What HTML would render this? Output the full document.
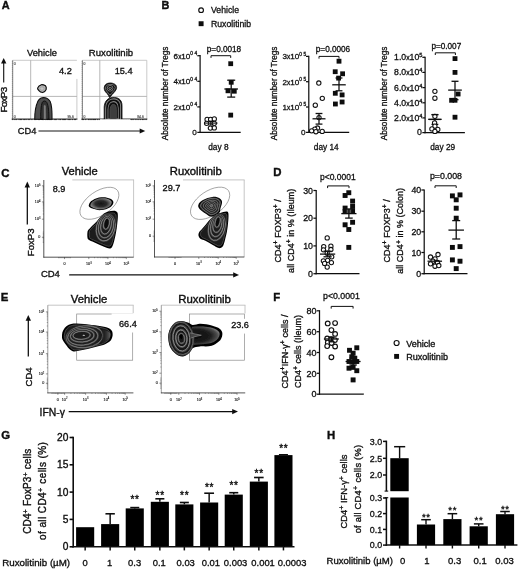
<!DOCTYPE html>
<html><head><meta charset="utf-8"><title>Figure</title>
<style>html,body{margin:0;padding:0;background:#fff;}svg{display:block;}</style>
</head><body>
<svg width="520" height="569" viewBox="0 0 520 569" font-family="Liberation Sans, sans-serif" style="white-space:pre">
<rect width="520" height="569" fill="#fff"/>
<g filter="url(#gbl)">
<defs>
<filter id="bl" x="-10%" y="-10%" width="120%" height="120%"><feGaussianBlur stdDeviation="0.38"/></filter>
<radialGradient id="rg1" cx="50%" cy="50%" r="55%"><stop offset="0" stop-color="#151515"/><stop offset="0.5" stop-color="#2c2c2c"/><stop offset="0.85" stop-color="#777"/><stop offset="1" stop-color="#a4a4a4"/></radialGradient>
<linearGradient id="rg2" x1="0" y1="0" x2="1" y2="0"><stop offset="0" stop-color="#0a0a0a"/><stop offset="0.55" stop-color="#2a2a2a"/><stop offset="1" stop-color="#707070"/></linearGradient>
<radialGradient id="rg3" cx="0.1" cy="0.5" r="0.95" gradientTransform="translate(0 0.5) scale(1 0.62) translate(0 -0.5)"><stop offset="0" stop-color="#080808"/><stop offset="0.6" stop-color="#1c1c1c"/><stop offset="0.85" stop-color="#4a4a4a"/><stop offset="1" stop-color="#858585"/></radialGradient>
<filter id="gbl" x="0" y="0" width="520" height="569" filterUnits="userSpaceOnUse"><feGaussianBlur stdDeviation="0.38"/></filter>
<filter id="bl2" x="-10%" y="-10%" width="120%" height="120%"><feGaussianBlur stdDeviation="0.45"/></filter>
</defs>
<text x="1.7" y="8.9" font-size="10.9" text-anchor="start" font-weight="bold" fill="#111" stroke="#111" stroke-width="0.39" xml:space="preserve" >A</text>
<text x="161.6" y="8.9" font-size="10.9" text-anchor="start" font-weight="bold" fill="#111" stroke="#111" stroke-width="0.39" xml:space="preserve" >B</text>
<text x="1.2" y="176.5" font-size="11.4" text-anchor="start" font-weight="bold" fill="#111" stroke="#111" stroke-width="0.41" xml:space="preserve" >C</text>
<text x="273.2" y="176.4" font-size="11.4" text-anchor="start" font-weight="bold" fill="#111" stroke="#111" stroke-width="0.41" xml:space="preserve" >D</text>
<text x="0.8" y="300.8" font-size="11.4" text-anchor="start" font-weight="bold" fill="#111" stroke="#111" stroke-width="0.41" xml:space="preserve" >E</text>
<text x="273.2" y="300.6" font-size="11.4" text-anchor="start" font-weight="bold" fill="#111" stroke="#111" stroke-width="0.41" xml:space="preserve" >F</text>
<text x="1.2" y="439.3" font-size="11.4" text-anchor="start" font-weight="bold" fill="#111" stroke="#111" stroke-width="0.41" xml:space="preserve" >G</text>
<text x="326.9" y="439.1" font-size="11.4" text-anchor="start" font-weight="bold" fill="#111" stroke="#111" stroke-width="0.41" xml:space="preserve" >H</text>
<text x="42" y="55.8" font-size="9.3" text-anchor="middle" fill="#111" stroke="#111" stroke-width="0.33" xml:space="preserve" >Vehicle</text>
<text x="111" y="55.8" font-size="9.6" text-anchor="middle" fill="#111" stroke="#111" stroke-width="0.35" xml:space="preserve" >Ruxolitinib</text>
<text x="7.5" y="112.6" font-size="9.8" text-anchor="start" transform="rotate(-90 7.5 112.6)" textLength="25.8" lengthAdjust="spacing" fill="#111" stroke="#111" stroke-width="0.35" xml:space="preserve" >FoxP3</text>
<line x1="3.7" y1="82.4" x2="3.7" y2="62.6" stroke="#111" stroke-width="1.1" />
<polygon points="3.7,58 1.0,63.6 6.4,63.6" fill="#111"/>
<text x="17.8" y="134.3" font-size="9.3" text-anchor="start" fill="#111" stroke="#111" stroke-width="0.33" xml:space="preserve" >CD4</text>
<line x1="38.5" y1="131" x2="140.70000000000002" y2="131" stroke="#111" stroke-width="1.15" />
<polygon points="145.3,131 139.70000000000002,128.4 139.70000000000002,133.6" fill="#111"/>
<line x1="12.7" y1="60.3" x2="76.9" y2="60.3" stroke="#b4b4b4" stroke-width="0.7" />
<line x1="76.9" y1="78.9" x2="76.9" y2="119" stroke="#b4b4b4" stroke-width="0.7" />
<line x1="30.7" y1="60.3" x2="30.7" y2="119" stroke="#a4a4a4" stroke-width="0.8" />
<line x1="12.7" y1="96.4" x2="76.9" y2="96.4" stroke="#a4a4a4" stroke-width="0.8" />
<line x1="12.7" y1="60.3" x2="12.7" y2="119" stroke="#4a4a4a" stroke-width="0.7" />
<line x1="11.7" y1="119.1" x2="77.4" y2="119.1" stroke="#111" stroke-width="1.0" />
<path d="M11.8,61.3h0.9M11.8,63.3h0.9M11.8,65.3h0.9M11.8,67.3h0.9M11.8,69.3h0.9M11.8,71.3h0.9M11.8,73.3h0.9M11.8,75.3h0.9M11.8,77.3h0.9M11.8,79.3h0.9M11.8,81.3h0.9M11.8,83.3h0.9M11.8,85.3h0.9M11.8,87.3h0.9M11.8,89.3h0.9M11.8,91.3h0.9M11.8,93.3h0.9M11.8,95.3h0.9M11.8,97.3h0.9M11.8,99.3h0.9M11.8,101.3h0.9M11.8,103.3h0.9M11.8,105.3h0.9M11.8,107.3h0.9M11.8,109.3h0.9M11.8,111.3h0.9M11.8,113.3h0.9M11.8,115.3h0.9M11.8,117.3h0.9M11.8,119.3h0.9" stroke="#444" stroke-width="0.4" fill="none"/>
<path d="M12.7,119v1.1M14.9,119v1.1M16.3,119v1.1M19.1,119v1.1M20.5,119v1.1M21.6,119v1.1M23.8,119v1.1M24.7,119v1.1M26.1,119v1.1M28.3,119v1.1M29.7,119v1.1M31.9,119v1.1M34.7,119v1.1M35.8,119v1.1M38.6,119v1.1M39.5,119v1.1M42.3,119v1.1M43.4,119v1.1M45.6,119v1.1M47.0,119v1.1M48.1,119v1.1M49.5,119v1.1M50.6,119v1.1M51.5,119v1.1M54.3,119v1.1M55.4,119v1.1M56.3,119v1.1M59.1,119v1.1M60.5,119v1.1M62.7,119v1.1M63.6,119v1.1M64.5,119v1.1M65.4,119v1.1M68.2,119v1.1M69.3,119v1.1M70.2,119v1.1M72.4,119v1.1M74.6,119v1.1M75.5,119v1.1" stroke="#111" stroke-width="0.7" fill="none"/>
<line x1="82.4" y1="60.3" x2="146.8" y2="60.3" stroke="#b4b4b4" stroke-width="0.7" />
<line x1="146.8" y1="60.3" x2="146.8" y2="119" stroke="#b4b4b4" stroke-width="0.7" />
<line x1="99.8" y1="60.3" x2="99.8" y2="119" stroke="#a4a4a4" stroke-width="0.8" />
<line x1="82.4" y1="96.4" x2="146.8" y2="96.4" stroke="#a4a4a4" stroke-width="0.8" />
<line x1="82.4" y1="60.3" x2="82.4" y2="119" stroke="#4a4a4a" stroke-width="0.7" />
<line x1="81.4" y1="119.1" x2="147.3" y2="119.1" stroke="#111" stroke-width="1.0" />
<path d="M81.5,61.3h0.9M81.5,63.3h0.9M81.5,65.3h0.9M81.5,67.3h0.9M81.5,69.3h0.9M81.5,71.3h0.9M81.5,73.3h0.9M81.5,75.3h0.9M81.5,77.3h0.9M81.5,79.3h0.9M81.5,81.3h0.9M81.5,83.3h0.9M81.5,85.3h0.9M81.5,87.3h0.9M81.5,89.3h0.9M81.5,91.3h0.9M81.5,93.3h0.9M81.5,95.3h0.9M81.5,97.3h0.9M81.5,99.3h0.9M81.5,101.3h0.9M81.5,103.3h0.9M81.5,105.3h0.9M81.5,107.3h0.9M81.5,109.3h0.9M81.5,111.3h0.9M81.5,113.3h0.9M81.5,115.3h0.9M81.5,117.3h0.9M81.5,119.3h0.9" stroke="#444" stroke-width="0.4" fill="none"/>
<path d="M82.4,119v1.1M83.5,119v1.1M85.7,119v1.1M88.5,119v1.1M89.9,119v1.1M91.0,119v1.1M92.1,119v1.1M93.5,119v1.1M94.6,119v1.1M95.5,119v1.1M97.7,119v1.1M99.9,119v1.1M102.7,119v1.1M103.6,119v1.1M104.7,119v1.1M106.1,119v1.1M108.9,119v1.1M110.0,119v1.1M110.9,119v1.1M113.1,119v1.1M114.0,119v1.1M115.4,119v1.1M116.8,119v1.1M119.0,119v1.1M119.9,119v1.1M122.1,119v1.1M123.2,119v1.1M124.1,119v1.1M125.2,119v1.1M126.6,119v1.1M128.0,119v1.1M128.9,119v1.1M131.7,119v1.1M133.1,119v1.1M135.9,119v1.1M138.1,119v1.1M140.3,119v1.1M142.5,119v1.1M143.9,119v1.1M146.1,119v1.1" stroke="#111" stroke-width="0.7" fill="none"/>
<text x="65.4" y="73.5" font-size="9.2" text-anchor="middle" fill="#111" stroke="#111" stroke-width="0.33" xml:space="preserve" >4.2</text>
<text x="123.6" y="73.5" font-size="9.2" text-anchor="middle" fill="#111" stroke="#111" stroke-width="0.33" xml:space="preserve" >15.4</text>
<text x="13.8" y="64.6" font-size="3.4" text-anchor="start" fill="#444" stroke="#444" stroke-width="0.12" xml:space="preserve" >0</text>
<text x="13.8" y="117.5" font-size="3.4" text-anchor="start" fill="#444" stroke="#444" stroke-width="0.12" xml:space="preserve" >0</text>
<text x="67.4" y="117.5" font-size="3.4" text-anchor="start" fill="#444" stroke="#444" stroke-width="0.12" xml:space="preserve" >95.6</text>
<text x="83.6" y="64.6" font-size="3.4" text-anchor="start" fill="#444" stroke="#444" stroke-width="0.12" xml:space="preserve" >0</text>
<text x="83.6" y="117.5" font-size="3.4" text-anchor="start" fill="#444" stroke="#444" stroke-width="0.12" xml:space="preserve" >0</text>
<text x="137.2" y="117.5" font-size="3.4" text-anchor="start" fill="#444" stroke="#444" stroke-width="0.12" xml:space="preserve" >84.6</text>
<g filter="url(#bl)">
<g transform="translate(42 88.6) scale(0.88) translate(-42 -88.6)">
<path d="M37,88.1 C37.6,86.4 39.6,84.8 41.2,84.2 C42.8,84 44.6,84.6 45.9,85.3 C46.8,86.4 47,88.4 46.7,89.6 C46,91.2 44.2,92.6 42.8,93.1 C41.2,92.8 39.4,91.8 38.5,90.8 C37.6,90 36.8,89 37,88.1Z" fill="#b4b4b4" stroke="#080808" stroke-width="1.3" stroke-linejoin="round"/>
<ellipse cx="42" cy="88.6" rx="2.3" ry="1.9" fill="#c4c4c4" stroke="#8a8a8a" stroke-width="0.5"/>
</g>
<g transform="translate(43.4 119.2) scale(0.95 0.985) translate(-43.4 -119.2)">
<path d="M34.3,119.2 C34.2,112 35.2,106 37.6,101 C38.8,98.8 41.4,97.3 43.6,97.3 C45.8,97.3 48.8,98.8 50.4,101 C52.4,105 52.6,112 52.5,119.2Z" fill="#505050" stroke="#101010" stroke-width="1.1"/>
<path d="M40.6,119.2 C40.5,112 40.8,105.5 42.2,102.2 C43.2,100.2 45.8,100.2 47,102.2 C48.8,105.5 49.2,112 49.2,119.2Z" fill="#333" stroke="#0c0c0c" stroke-width="1"/>
<path d="M43.5,119.2 L43.5,106.5 C43.8,103.8 45.9,103.8 46.2,106.5 L46.4,119.2Z" fill="#7c7c7c" stroke="#2a2a2a" stroke-width="0.5"/>
</g>
</g>
<g filter="url(#bl)">
<path d="M104.2,88 C104.2,85 106.6,83 110,83 C113.6,83 116.6,84.6 116.6,87.4 C116.6,90.4 113.6,92.6 112,94.6 C111.2,95.6 110.4,96.6 109.6,97.6 C108.8,96 108,94.6 107.2,93.6 C105.6,92 104.2,90.6 104.2,88Z" fill="#0a0a0a" stroke="#0a0a0a" stroke-width="0.8"/>
<path d="M105.6,88 C105.6,85.6 107.6,84.3 110,84.3 C112.8,84.3 115.2,85.4 115.2,87.6 C115.2,90 112.6,91.8 111.4,93.4 L109.8,95.2 L108.4,93.2 C107,91.6 105.6,90.4 105.6,88Z" fill="none" stroke="#8a8a8a" stroke-width="0.8"/>
<circle cx="110.1" cy="88.3" r="2.9" fill="#0a0a0a" stroke="#909090" stroke-width="0.8"/>
<circle cx="110.1" cy="88.3" r="1.6" fill="#888"/>
<circle cx="110.1" cy="88.3" r="0.8" fill="#0a0a0a"/>
<defs><path id="dm" d="M104.2,119.2 L104.2,107 C104.4,102.4 107,98.6 110.8,97.7 C113.4,97.1 116.4,97.4 118.5,98.5 C120.8,99.8 122,102.4 122,105.4 L122,119.2Z"/></defs>
<use href="#dm" fill="#0a0a0a" stroke="#0a0a0a" stroke-width="0.8"/>
<use href="#dm" transform="translate(113.2 119.2) scale(0.84 0.93) translate(-113.2 -119.2)" fill="none" stroke="#868686" stroke-width="1.19"/>
<use href="#dm" transform="translate(113.2 119.2) scale(0.58 0.8) translate(-113.2 -119.2)" fill="none" stroke="#808080" stroke-width="1.55"/>
<use href="#dm" transform="translate(113.2 119.2) scale(0.36 0.68) translate(-113.2 -119.2)" fill="#3c3c3c" stroke="#555" stroke-width="1.39"/>
<rect x="100" y="119.3" width="30" height="3" fill="#fff"/>
</g>
<circle cx="201.1" cy="10.2" r="2.35" fill="#fff" stroke="#111" stroke-width="1.15"/>
<text x="211" y="13.2" font-size="8.7" text-anchor="start" fill="#111" stroke="#111" stroke-width="0.31" xml:space="preserve" >Vehicle</text>
<rect x="198.65" y="21.25" width="4.9" height="4.9" fill="#0a0a0a"/>
<text x="211" y="26.9" font-size="8.7" text-anchor="start" fill="#111" stroke="#111" stroke-width="0.31" xml:space="preserve" >Ruxolitinib</text>
<line x1="200.1" y1="55.075" x2="200.1" y2="133.025" stroke="#111" stroke-width="1.25" />
<line x1="199.475" y1="132.4" x2="240.7" y2="132.4" stroke="#111" stroke-width="1.25" />
<line x1="197.29999999999998" y1="55.7" x2="200.1" y2="55.7" stroke="#111" stroke-width="1.25" />
<line x1="197.29999999999998" y1="81.3" x2="200.1" y2="81.3" stroke="#111" stroke-width="1.25" />
<line x1="197.29999999999998" y1="106.9" x2="200.1" y2="106.9" stroke="#111" stroke-width="1.25" />
<line x1="197.29999999999998" y1="132.4" x2="200.1" y2="132.4" stroke="#111" stroke-width="1.25" />
<text x="198.9" y="58.6" font-size="8.1" text-anchor="end" fill="#111" stroke="#111" stroke-width="0.29" xml:space="preserve" >6<tspan font-size="6.4">x</tspan>10<tspan font-size="4.8" dy="-3.6" letter-spacing="1.6">04</tspan></text>
<text x="198.9" y="84.2" font-size="8.1" text-anchor="end" fill="#111" stroke="#111" stroke-width="0.29" xml:space="preserve" >4<tspan font-size="6.4">x</tspan>10<tspan font-size="4.8" dy="-3.6" letter-spacing="1.6">04</tspan></text>
<text x="198.9" y="109.80000000000001" font-size="8.1" text-anchor="end" fill="#111" stroke="#111" stroke-width="0.29" xml:space="preserve" >2<tspan font-size="6.4">x</tspan>10<tspan font-size="4.8" dy="-3.6" letter-spacing="1.6">04</tspan></text>
<text x="196.8" y="135.3" font-size="8.1" text-anchor="end" fill="#111" stroke="#111" stroke-width="0.29" xml:space="preserve" >0</text>
<text x="168.5" y="93.4" font-size="8.2" text-anchor="middle" transform="rotate(-90 168.5 93.4)" fill="#111" stroke="#111" stroke-width="0.30" xml:space="preserve" >Absolute number of Tregs</text>
<text x="218.4" y="149.6" font-size="8.3" text-anchor="middle" fill="#111" stroke="#111" stroke-width="0.30" xml:space="preserve" >day 8</text>
<text x="224" y="51.8" font-size="8.2" text-anchor="middle" fill="#111" stroke="#111" stroke-width="0.30" xml:space="preserve" >p=0.0018</text>
<polyline points="211,57.900000000000006 211,55.7 230.7,55.7 230.7,57.900000000000006" fill="none" stroke="#111" stroke-width="1.0"/>
<circle cx="207.1" cy="119.4" r="2.15" fill="#fff" stroke="#111" stroke-width="1.05"/>
<circle cx="210.6" cy="119.4" r="2.15" fill="#fff" stroke="#111" stroke-width="1.05"/>
<circle cx="214.3" cy="118.9" r="2.15" fill="#fff" stroke="#111" stroke-width="1.05"/>
<circle cx="206.6" cy="123.3" r="2.15" fill="#fff" stroke="#111" stroke-width="1.05"/>
<circle cx="214.3" cy="123.3" r="2.15" fill="#fff" stroke="#111" stroke-width="1.05"/>
<circle cx="210.4" cy="128.1" r="2.15" fill="#fff" stroke="#111" stroke-width="1.05"/>
<circle cx="214.3" cy="127.9" r="2.15" fill="#fff" stroke="#111" stroke-width="1.05"/>
<line x1="204.10000000000002" y1="123.1" x2="217.5" y2="123.1" stroke="#111" stroke-width="1.1" />
<line x1="210.8" y1="121.2" x2="210.8" y2="125" stroke="#111" stroke-width="1.1" />
<line x1="208.3" y1="121.2" x2="213.3" y2="121.2" stroke="#111" stroke-width="1.1" />
<line x1="208.3" y1="125" x2="213.3" y2="125" stroke="#111" stroke-width="1.1" />
<line x1="224.39999999999998" y1="89" x2="238.0" y2="89" stroke="#111" stroke-width="1.3" />
<line x1="231.2" y1="80.2" x2="231.2" y2="97.1" stroke="#111" stroke-width="1.3" />
<line x1="227.2" y1="80.2" x2="235.2" y2="80.2" stroke="#111" stroke-width="1.3" />
<line x1="227.2" y1="97.1" x2="235.2" y2="97.1" stroke="#111" stroke-width="1.3" />
<rect x="228.30" y="61.30" width="4.8" height="4.8" fill="#0a0a0a"/>
<rect x="225.60" y="88.40" width="4.8" height="4.8" fill="#0a0a0a"/>
<rect x="231.90" y="88.80" width="4.8" height="4.8" fill="#0a0a0a"/>
<rect x="228.80" y="79.90" width="4.8" height="4.8" fill="#0a0a0a"/>
<rect x="228.30" y="112.70" width="4.8" height="4.8" fill="#0a0a0a"/>
<line x1="308.8" y1="55.775" x2="308.8" y2="133.025" stroke="#111" stroke-width="1.25" />
<line x1="308.175" y1="132.4" x2="349.2" y2="132.4" stroke="#111" stroke-width="1.25" />
<line x1="306.0" y1="56.4" x2="308.8" y2="56.4" stroke="#111" stroke-width="1.25" />
<line x1="306.0" y1="81.7" x2="308.8" y2="81.7" stroke="#111" stroke-width="1.25" />
<line x1="306.0" y1="107" x2="308.8" y2="107" stroke="#111" stroke-width="1.25" />
<line x1="306.0" y1="132.4" x2="308.8" y2="132.4" stroke="#111" stroke-width="1.25" />
<text x="307.8" y="59.3" font-size="8.1" text-anchor="end" fill="#111" stroke="#111" stroke-width="0.29" xml:space="preserve" >3<tspan font-size="6.4">x</tspan>10<tspan font-size="4.8" dy="-3.6" letter-spacing="1.6">05</tspan></text>
<text x="307.8" y="84.60000000000001" font-size="8.1" text-anchor="end" fill="#111" stroke="#111" stroke-width="0.29" xml:space="preserve" >2<tspan font-size="6.4">x</tspan>10<tspan font-size="4.8" dy="-3.6" letter-spacing="1.6">05</tspan></text>
<text x="307.8" y="109.9" font-size="8.1" text-anchor="end" fill="#111" stroke="#111" stroke-width="0.29" xml:space="preserve" >1<tspan font-size="6.4">x</tspan>10<tspan font-size="4.8" dy="-3.6" letter-spacing="1.6">05</tspan></text>
<text x="305.6" y="135.3" font-size="8.1" text-anchor="end" fill="#111" stroke="#111" stroke-width="0.29" xml:space="preserve" >0</text>
<text x="277.4" y="93.4" font-size="8.2" text-anchor="middle" transform="rotate(-90 277.4 93.4)" fill="#111" stroke="#111" stroke-width="0.30" xml:space="preserve" >Absolute number of Tregs</text>
<text x="326.3" y="149.6" font-size="8.3" text-anchor="middle" fill="#111" stroke="#111" stroke-width="0.30" xml:space="preserve" >day 14</text>
<text x="333" y="52.3" font-size="8.2" text-anchor="middle" fill="#111" stroke="#111" stroke-width="0.30" xml:space="preserve" >p=0.0006</text>
<polyline points="319,58.6 319,56.4 339,56.4 339,58.6" fill="none" stroke="#111" stroke-width="1.0"/>
<circle cx="318.8" cy="83" r="2.15" fill="#fff" stroke="#111" stroke-width="1.05"/>
<circle cx="322.3" cy="98.3" r="2.15" fill="#fff" stroke="#111" stroke-width="1.05"/>
<circle cx="315.3" cy="105.2" r="2.15" fill="#fff" stroke="#111" stroke-width="1.05"/>
<circle cx="319" cy="117.6" r="2.15" fill="#fff" stroke="#111" stroke-width="1.05"/>
<circle cx="317.5" cy="128" r="2.15" fill="#fff" stroke="#111" stroke-width="1.05"/>
<circle cx="314.8" cy="129.2" r="2.15" fill="#fff" stroke="#111" stroke-width="1.05"/>
<circle cx="311.6" cy="130.8" r="2.15" fill="#fff" stroke="#111" stroke-width="1.05"/>
<circle cx="315.9" cy="131.7" r="2.15" fill="#fff" stroke="#111" stroke-width="1.05"/>
<circle cx="322.2" cy="131.4" r="2.15" fill="#fff" stroke="#111" stroke-width="1.05"/>
<line x1="312.5" y1="118.8" x2="325.5" y2="118.8" stroke="#111" stroke-width="1.3" />
<line x1="319" y1="113.5" x2="319" y2="124.1" stroke="#111" stroke-width="1.3" />
<line x1="315.6" y1="113.5" x2="322.4" y2="113.5" stroke="#111" stroke-width="1.3" />
<line x1="315.6" y1="124.1" x2="322.4" y2="124.1" stroke="#111" stroke-width="1.3" />
<line x1="332.25" y1="84.8" x2="345.75" y2="84.8" stroke="#111" stroke-width="1.3" />
<line x1="339" y1="78" x2="339" y2="90.8" stroke="#111" stroke-width="1.3" />
<line x1="335.6" y1="78" x2="342.4" y2="78" stroke="#111" stroke-width="1.3" />
<line x1="335.6" y1="90.8" x2="342.4" y2="90.8" stroke="#111" stroke-width="1.3" />
<rect x="336.60" y="58.80" width="4.8" height="4.8" fill="#0a0a0a"/>
<rect x="332.80" y="69.30" width="4.8" height="4.8" fill="#0a0a0a"/>
<rect x="340.20" y="71.40" width="4.8" height="4.8" fill="#0a0a0a"/>
<rect x="336.20" y="75.70" width="4.8" height="4.8" fill="#0a0a0a"/>
<rect x="332.90" y="90.90" width="4.8" height="4.8" fill="#0a0a0a"/>
<rect x="339.70" y="92.50" width="4.8" height="4.8" fill="#0a0a0a"/>
<rect x="339.70" y="99.60" width="4.8" height="4.8" fill="#0a0a0a"/>
<rect x="333.00" y="101.60" width="4.8" height="4.8" fill="#0a0a0a"/>
<line x1="425.1" y1="56.675" x2="425.1" y2="133.225" stroke="#111" stroke-width="1.25" />
<line x1="424.475" y1="132.6" x2="464.9" y2="132.6" stroke="#111" stroke-width="1.25" />
<line x1="422.3" y1="57.3" x2="425.1" y2="57.3" stroke="#111" stroke-width="1.25" />
<line x1="422.3" y1="72.4" x2="425.1" y2="72.4" stroke="#111" stroke-width="1.25" />
<line x1="422.3" y1="87.6" x2="425.1" y2="87.6" stroke="#111" stroke-width="1.25" />
<line x1="422.3" y1="102.8" x2="425.1" y2="102.8" stroke="#111" stroke-width="1.25" />
<line x1="422.3" y1="117.9" x2="425.1" y2="117.9" stroke="#111" stroke-width="1.25" />
<line x1="422.3" y1="132.6" x2="425.1" y2="132.6" stroke="#111" stroke-width="1.25" />
<text x="422.4" y="60.3" font-size="8.7" text-anchor="end" fill="#111" stroke="#111" stroke-width="0.31" xml:space="preserve" >1.0<tspan font-size="6.8">x</tspan>10<tspan font-size="5.6" dy="-3.1">5</tspan></text>
<text x="422.4" y="75.4" font-size="8.7" text-anchor="end" fill="#111" stroke="#111" stroke-width="0.31" xml:space="preserve" >8.0<tspan font-size="6.8">x</tspan>10<tspan font-size="5.6" dy="-3.1">4</tspan></text>
<text x="422.4" y="90.6" font-size="8.7" text-anchor="end" fill="#111" stroke="#111" stroke-width="0.31" xml:space="preserve" >6.0<tspan font-size="6.8">x</tspan>10<tspan font-size="5.6" dy="-3.1">4</tspan></text>
<text x="422.4" y="105.8" font-size="8.7" text-anchor="end" fill="#111" stroke="#111" stroke-width="0.31" xml:space="preserve" >4.0<tspan font-size="6.8">x</tspan>10<tspan font-size="5.6" dy="-3.1">4</tspan></text>
<text x="422.4" y="120.9" font-size="8.7" text-anchor="end" fill="#111" stroke="#111" stroke-width="0.31" xml:space="preserve" >2.0<tspan font-size="6.8">x</tspan>10<tspan font-size="5.6" dy="-3.1">4</tspan></text>
<text x="421.8" y="135.4" font-size="8.7" text-anchor="end" fill="#111" stroke="#111" stroke-width="0.31" xml:space="preserve" >0</text>
<text x="387.4" y="93.4" font-size="8.2" text-anchor="middle" transform="rotate(-90 387.4 93.4)" fill="#111" stroke="#111" stroke-width="0.30" xml:space="preserve" >Absolute number of Tregs</text>
<text x="442.7" y="149.6" font-size="8.3" text-anchor="middle" fill="#111" stroke="#111" stroke-width="0.30" xml:space="preserve" >day 29</text>
<text x="446.3" y="49.1" font-size="8.2" text-anchor="middle" fill="#111" stroke="#111" stroke-width="0.30" xml:space="preserve" >p=0.007</text>
<polyline points="435.3,55.0 435.3,52.8 455.4,52.8 455.4,55.0" fill="none" stroke="#111" stroke-width="1.0"/>
<line x1="428.4" y1="119.4" x2="441.4" y2="119.4" stroke="#111" stroke-width="1.3" />
<line x1="434.9" y1="114.6" x2="434.9" y2="124.4" stroke="#111" stroke-width="1.3" />
<line x1="431.5" y1="114.6" x2="438.29999999999995" y2="114.6" stroke="#111" stroke-width="1.3" />
<line x1="431.5" y1="124.4" x2="438.29999999999995" y2="124.4" stroke="#111" stroke-width="1.3" />
<circle cx="434.9" cy="91.3" r="2.15" fill="#fff" stroke="#111" stroke-width="1.05"/>
<circle cx="434.9" cy="98.2" r="2.15" fill="#fff" stroke="#111" stroke-width="1.05"/>
<circle cx="434.9" cy="116.3" r="2.15" fill="#fff" stroke="#111" stroke-width="1.05"/>
<circle cx="434.6" cy="122.8" r="2.15" fill="#fff" stroke="#111" stroke-width="1.05"/>
<circle cx="434.9" cy="126.2" r="2.15" fill="#fff" stroke="#111" stroke-width="1.05"/>
<circle cx="431.9" cy="128.9" r="2.15" fill="#fff" stroke="#111" stroke-width="1.05"/>
<circle cx="437.8" cy="129.4" r="2.15" fill="#fff" stroke="#111" stroke-width="1.05"/>
<circle cx="434.9" cy="131.4" r="2.15" fill="#fff" stroke="#111" stroke-width="1.05"/>
<line x1="428.4" y1="119.4" x2="441.5" y2="119.4" stroke="#111" stroke-width="1.3" />
<line x1="431.6" y1="114.6" x2="438.4" y2="114.6" stroke="#111" stroke-width="1.3" />
<line x1="448.15" y1="90.1" x2="461.85" y2="90.1" stroke="#111" stroke-width="1.3" />
<line x1="455" y1="81.3" x2="455" y2="99.7" stroke="#111" stroke-width="1.3" />
<line x1="451.5" y1="81.3" x2="458.5" y2="81.3" stroke="#111" stroke-width="1.3" />
<line x1="451.5" y1="99.7" x2="458.5" y2="99.7" stroke="#111" stroke-width="1.3" />
<rect x="452.60" y="56.20" width="4.8" height="4.8" fill="#0a0a0a"/>
<rect x="452.60" y="70.00" width="4.8" height="4.8" fill="#0a0a0a"/>
<rect x="455.70" y="91.60" width="4.8" height="4.8" fill="#0a0a0a"/>
<rect x="449.20" y="97.90" width="4.8" height="4.8" fill="#0a0a0a"/>
<rect x="452.60" y="97.90" width="4.8" height="4.8" fill="#0a0a0a"/>
<rect x="452.60" y="114.80" width="4.8" height="4.8" fill="#0a0a0a"/>
<text x="79.8" y="174.8" font-size="11.2" text-anchor="middle" fill="#111" stroke="#111" stroke-width="0.40" xml:space="preserve" >Vehicle</text>
<text x="195.8" y="175" font-size="11.3" text-anchor="middle" fill="#111" stroke="#111" stroke-width="0.41" xml:space="preserve" >Ruxolitinib</text>
<text x="33.8" y="256.2" font-size="9.6" text-anchor="start" transform="rotate(-90 33.8 256.2)" fill="#111" stroke="#111" stroke-width="0.35" xml:space="preserve" >FoxP3</text>
<line x1="27.3" y1="224.6" x2="27.3" y2="186.4" stroke="#111" stroke-width="1.3" />
<polygon points="27.3,181.6 24.6,187.4 30.0,187.4" fill="#111"/>
<text x="40.9" y="277" font-size="9.5" text-anchor="start" fill="#111" stroke="#111" stroke-width="0.34" xml:space="preserve" >CD4</text>
<line x1="69.2" y1="274.9" x2="234.2" y2="274.9" stroke="#111" stroke-width="1.3" />
<polygon points="239,274.9 233.2,272.2 233.2,277.59999999999997" fill="#111"/>
<line x1="72.3" y1="179.9" x2="134.0" y2="179.9" stroke="#b8b8b8" stroke-width="0.8" />
<line x1="133.6" y1="179.9" x2="133.6" y2="257.2" stroke="#b8b8b8" stroke-width="0.8" />
<line x1="183.0" y1="179.9" x2="244.6" y2="179.9" stroke="#b8b8b8" stroke-width="0.8" />
<line x1="244.2" y1="179.9" x2="244.2" y2="257.2" stroke="#b8b8b8" stroke-width="0.8" />
<line x1="43.8" y1="180" x2="43.8" y2="257.59999999999997" stroke="#2a2a2a" stroke-width="0.8" />
<line x1="43.4" y1="257.2" x2="133.7" y2="257.2" stroke="#2a2a2a" stroke-width="0.8" />
<path d="M41.9,185.8h1.9M41.9,201.9h1.9M41.9,219.2h1.9M88.8,257.2v1.9M107.9,257.2v1.9M126.3,257.2v1.9M41.9,237.3h1.9M64.5,257.2v1.9" stroke="#2a2a2a" stroke-width="0.5" fill="none"/>
<path d="M42.8,197.1h1M42.8,194.2h1M42.8,192.2h1M42.8,190.6h1M42.8,189.4h1M42.8,188.3h1M42.8,187.4h1M42.8,186.5h1M42.8,214.0h1M42.8,210.9h1M42.8,208.8h1M42.8,207.1h1M42.8,205.7h1M42.8,204.6h1M42.8,203.6h1M42.8,202.7h1M94.5,257.2v1M97.9,257.2v1M100.3,257.2v1M102.2,257.2v1M103.7,257.2v1M104.9,257.2v1M106.0,257.2v1M107.0,257.2v1M113.4,257.2v1M116.7,257.2v1M119.0,257.2v1M120.8,257.2v1M122.2,257.2v1M123.4,257.2v1M124.5,257.2v1M125.5,257.2v1M42.8,232.1h1M42.8,233.4h1M42.8,234.7h1M42.8,236.0h1M42.8,237.3h1M42.8,238.6h1M42.8,239.9h1M42.8,241.2h1M42.8,242.5h1M58.5,257.2v1M59.7,257.2v1M60.9,257.2v1M62.1,257.2v1M63.3,257.2v1M64.5,257.2v1M65.7,257.2v1M66.9,257.2v1M68.1,257.2v1M69.3,257.2v1M70.5,257.2v1" stroke="#2a2a2a" stroke-width="0.4" fill="none"/>
<line x1="154.5" y1="180" x2="154.5" y2="257.4" stroke="#2a2a2a" stroke-width="0.8" />
<line x1="154.1" y1="257" x2="244.3" y2="257" stroke="#2a2a2a" stroke-width="0.8" />
<path d="M152.6,185.8h1.9M152.6,201.8h1.9M152.6,219.2h1.9M198.8,257.0v1.9M218.2,257.0v1.9M236.2,257.0v1.9M152.6,236.2h1.9M175.0,257.0v1.9" stroke="#2a2a2a" stroke-width="0.5" fill="none"/>
<path d="M153.5,197.0h1M153.5,194.2h1M153.5,192.2h1M153.5,190.6h1M153.5,189.3h1M153.5,188.3h1M153.5,187.4h1M153.5,186.5h1M153.5,214.0h1M153.5,210.9h1M153.5,208.7h1M153.5,207.0h1M153.5,205.7h1M153.5,204.5h1M153.5,203.5h1M153.5,202.6h1M204.6,257.0v1M208.1,257.0v1M210.5,257.0v1M212.4,257.0v1M213.9,257.0v1M215.2,257.0v1M216.3,257.0v1M217.3,257.0v1M223.6,257.0v1M226.8,257.0v1M229.0,257.0v1M230.8,257.0v1M232.2,257.0v1M233.4,257.0v1M234.5,257.0v1M235.4,257.0v1M153.5,231.0h1M153.5,232.3h1M153.5,233.6h1M153.5,234.9h1M153.5,236.2h1M153.5,237.5h1M153.5,238.8h1M153.5,240.1h1M153.5,241.4h1M169.0,257.0v1M170.2,257.0v1M171.4,257.0v1M172.6,257.0v1M173.8,257.0v1M175.0,257.0v1M176.2,257.0v1M177.4,257.0v1M178.6,257.0v1M179.8,257.0v1M181.0,257.0v1" stroke="#2a2a2a" stroke-width="0.4" fill="none"/>
<text x="40.4" y="186.9" font-size="3.7" text-anchor="end" fill="#1a1a1a" stroke="#1a1a1a" stroke-width="0.13" xml:space="preserve" >10<tspan font-size="2.6" dy="-1.4">5</tspan></text>
<text x="40.4" y="203.0" font-size="3.7" text-anchor="end" fill="#1a1a1a" stroke="#1a1a1a" stroke-width="0.13" xml:space="preserve" >10<tspan font-size="2.6" dy="-1.4">4</tspan></text>
<text x="40.4" y="220.29999999999998" font-size="3.7" text-anchor="end" fill="#1a1a1a" stroke="#1a1a1a" stroke-width="0.13" xml:space="preserve" >10<tspan font-size="2.6" dy="-1.4">3</tspan></text>
<text x="40.4" y="238.4" font-size="3.7" text-anchor="end" fill="#1a1a1a" stroke="#1a1a1a" stroke-width="0.13" xml:space="preserve" >0</text>
<text x="151" y="186.9" font-size="3.7" text-anchor="end" fill="#1a1a1a" stroke="#1a1a1a" stroke-width="0.13" xml:space="preserve" >10<tspan font-size="2.6" dy="-1.4">5</tspan></text>
<text x="151" y="202.9" font-size="3.7" text-anchor="end" fill="#1a1a1a" stroke="#1a1a1a" stroke-width="0.13" xml:space="preserve" >10<tspan font-size="2.6" dy="-1.4">4</tspan></text>
<text x="151" y="220.29999999999998" font-size="3.7" text-anchor="end" fill="#1a1a1a" stroke="#1a1a1a" stroke-width="0.13" xml:space="preserve" >10<tspan font-size="2.6" dy="-1.4">3</tspan></text>
<text x="151" y="237.29999999999998" font-size="3.7" text-anchor="end" fill="#1a1a1a" stroke="#1a1a1a" stroke-width="0.13" xml:space="preserve" >0</text>
<text x="64.5" y="265" font-size="3.7" text-anchor="middle" fill="#1a1a1a" stroke="#1a1a1a" stroke-width="0.13" xml:space="preserve" >0</text>
<text x="88.8" y="265" font-size="3.7" text-anchor="middle" fill="#1a1a1a" stroke="#1a1a1a" stroke-width="0.13" xml:space="preserve" >10<tspan font-size="2.6" dy="-1.4">3</tspan></text>
<text x="107.9" y="265" font-size="3.7" text-anchor="middle" fill="#1a1a1a" stroke="#1a1a1a" stroke-width="0.13" xml:space="preserve" >10<tspan font-size="2.6" dy="-1.4">4</tspan></text>
<text x="126.3" y="265" font-size="3.7" text-anchor="middle" fill="#1a1a1a" stroke="#1a1a1a" stroke-width="0.13" xml:space="preserve" >10<tspan font-size="2.6" dy="-1.4">5</tspan></text>
<text x="175" y="264.6" font-size="3.7" text-anchor="middle" fill="#1a1a1a" stroke="#1a1a1a" stroke-width="0.13" xml:space="preserve" >0</text>
<text x="198.8" y="264.6" font-size="3.7" text-anchor="middle" fill="#1a1a1a" stroke="#1a1a1a" stroke-width="0.13" xml:space="preserve" >10<tspan font-size="2.6" dy="-1.4">3</tspan></text>
<text x="218.2" y="264.6" font-size="3.7" text-anchor="middle" fill="#1a1a1a" stroke="#1a1a1a" stroke-width="0.13" xml:space="preserve" >10<tspan font-size="2.6" dy="-1.4">4</tspan></text>
<text x="236.2" y="264.6" font-size="3.7" text-anchor="middle" fill="#1a1a1a" stroke="#1a1a1a" stroke-width="0.13" xml:space="preserve" >10<tspan font-size="2.6" dy="-1.4">5</tspan></text>
<text x="59" y="191.5" font-size="9.1" text-anchor="middle" fill="#111" stroke="#111" stroke-width="0.33" xml:space="preserve" >8.9</text>
<text x="171.5" y="191.3" font-size="9.2" text-anchor="middle" fill="#111" stroke="#111" stroke-width="0.33" xml:space="preserve" >29.7</text>
<ellipse cx="99.4" cy="203.3" rx="22.2" ry="12" transform="rotate(-34.6 99.4 203.3)" fill="none" stroke="#6a6a6a" stroke-width="0.55"/>
<ellipse cx="210.1" cy="203.3" rx="22.3" ry="12.2" transform="rotate(-34.5 210.1 203.3)" fill="none" stroke="#6a6a6a" stroke-width="0.55"/>
<g filter="url(#bl)">
<defs><path id="cu1" d="M88.7,205.6 C89.2,202.8 90.6,201.2 92.6,200.2 C95.2,198.6 98.2,197.6 101.3,197.3 C104.4,197 108,197.4 110.4,198.8 C112.4,199.8 113.6,200.9 113.4,202.6 C113.2,204.6 112,206 110.2,207.2 C107.6,208.8 104.4,209.8 101.3,210.1 C98.2,210.4 95,209.6 92.4,208.6 C90.4,207.8 88.6,207.2 88.7,205.6Z"/></defs><use href="#cu1" fill="#040404"/>
<use href="#cu1" transform="translate(101 203.8) scale(0.86) translate(-101 -203.8)" fill="url(#rg1)"/>
</g>
<g filter="url(#bl)">
<defs><path id="cl1" d="M113.3,210.7 C115,210.6 116.6,211 117.4,212.6 C118.2,214.4 117.9,219 117.2,224.3 C116.6,229.5 115.8,234.5 114.4,240 C113.6,243.2 112.6,247.4 111,248.2 C109.6,248.8 108.4,248.5 107.2,248.1 C104.6,247.2 102.2,246 99.9,245.1 C97.4,244 94.8,242.6 92.4,241.6 C90.4,240.8 88.2,240.2 87.6,238.6 C87.2,236.4 87.2,233.2 87.6,231.2 C88,229.8 89.6,229 90.6,227.6 C92.8,225 95,223.2 96.9,221.2 C99.2,218.8 101.2,215.8 103.6,213.8 C106.4,211.6 110,210.8 113.3,210.7Z"/><clipPath id="cl1c"><use href="#cl1"/></clipPath></defs><use href="#cl1" fill="#050505"/>
<g clip-path="url(#cl1c)">
<use href="#cl1" transform="translate(104 229) scale(0.88) translate(-104 -229)" fill="#1a1a1a" stroke="#777" stroke-width="0.57"/>
<ellipse cx="105.7" cy="227.7" rx="9" ry="13.3" transform="rotate(14 105.7 227.7)" fill="none" stroke="#2c2c2c" stroke-width="3.00"/>
<ellipse cx="105.7" cy="227.7" rx="9" ry="13.3" transform="rotate(14 105.7 227.7)" fill="none" stroke="#4a4a4a" stroke-width="1.95"/>
<ellipse cx="105.7" cy="227.7" rx="9" ry="13.3" transform="rotate(14 105.7 227.7)" fill="none" stroke="#707070" stroke-width="0.98"/>
<ellipse cx="105.7" cy="227.7" rx="9" ry="13.3" transform="rotate(14 105.7 227.7)" fill="#1c1c1c" stroke="#b4b4b4" stroke-width="0.45"/>
<ellipse cx="106" cy="226.6" rx="7.1" ry="11.2" transform="rotate(13 106 226.6)" fill="none" stroke="#2c2c2c" stroke-width="3.00"/>
<ellipse cx="106" cy="226.6" rx="7.1" ry="11.2" transform="rotate(13 106 226.6)" fill="none" stroke="#4a4a4a" stroke-width="1.95"/>
<ellipse cx="106" cy="226.6" rx="7.1" ry="11.2" transform="rotate(13 106 226.6)" fill="none" stroke="#707070" stroke-width="0.98"/>
<ellipse cx="106" cy="226.6" rx="7.1" ry="11.2" transform="rotate(13 106 226.6)" fill="#1c1c1c" stroke="#b4b4b4" stroke-width="0.45"/>
<ellipse cx="106" cy="225.3" rx="4.9" ry="8.7" transform="rotate(12 106 225.3)" fill="none" stroke="#2c2c2c" stroke-width="3.00"/>
<ellipse cx="106" cy="225.3" rx="4.9" ry="8.7" transform="rotate(12 106 225.3)" fill="none" stroke="#4a4a4a" stroke-width="1.95"/>
<ellipse cx="106" cy="225.3" rx="4.9" ry="8.7" transform="rotate(12 106 225.3)" fill="none" stroke="#707070" stroke-width="0.98"/>
<ellipse cx="106" cy="225.3" rx="4.9" ry="8.7" transform="rotate(12 106 225.3)" fill="#1c1c1c" stroke="#b4b4b4" stroke-width="0.45"/>
<ellipse cx="106.5" cy="223.6" rx="2.6" ry="5.4" transform="rotate(12 106.5 223.6)" fill="none" stroke="#2c2c2c" stroke-width="3.00"/>
<ellipse cx="106.5" cy="223.6" rx="2.6" ry="5.4" transform="rotate(12 106.5 223.6)" fill="none" stroke="#4a4a4a" stroke-width="1.95"/>
<ellipse cx="106.5" cy="223.6" rx="2.6" ry="5.4" transform="rotate(12 106.5 223.6)" fill="none" stroke="#707070" stroke-width="0.98"/>
<ellipse cx="106.5" cy="223.6" rx="2.6" ry="5.4" transform="rotate(12 106.5 223.6)" fill="#0c0c0c" stroke="#b4b4b4" stroke-width="0.45"/>
</g></g>
<g filter="url(#bl)">
<defs><path id="cu2" d="M198.2,205.4 C198.8,203 200.6,201.2 203,200.1 C206,198.4 209.2,197.2 212.5,196.9 C215.2,196.7 218,197.2 219.9,198.5 C221.6,199.6 222.2,201 222,202.8 C221.8,204.8 220.8,206.8 220.4,208.6 C220.2,209.8 220.2,210.8 219.9,211.7 C219.2,213.2 218,214.2 216.7,214.9 C214.8,216 212.4,216.9 210.4,216.5 C208.8,216.1 207.6,214.9 206.2,213.9 C204.4,212.7 202.4,211.6 200.9,210.2 C199.4,208.8 197.9,207.2 198.2,205.4Z"/></defs><use href="#cu2" fill="#050505"/>
<g transform="translate(211.40 205.60) scale(0.800 0.8) translate(-211.4 -205.6)" fill="none">
<use href="#cu2" stroke="#262626" stroke-width="3.00"/>
<use href="#cu2" stroke="#3c3c3c" stroke-width="1.95"/>
<use href="#cu2" stroke="#5e5e5e" stroke-width="0.97"/>
<use href="#cu2" fill="#1c1c1c" stroke="#b0b0b0" stroke-width="0.50"/>
</g>
<g transform="translate(211.40 205.60) scale(0.600 0.6) translate(-211.4 -205.6)" fill="none">
<use href="#cu2" stroke="#262626" stroke-width="4.00"/>
<use href="#cu2" stroke="#3c3c3c" stroke-width="2.60"/>
<use href="#cu2" stroke="#5e5e5e" stroke-width="1.30"/>
<use href="#cu2" fill="#1c1c1c" stroke="#b0b0b0" stroke-width="0.67"/>
</g>
<g transform="translate(211.40 205.60) scale(0.420 0.42) translate(-211.4 -205.6)" fill="none">
<use href="#cu2" stroke="#262626" stroke-width="5.71"/>
<use href="#cu2" stroke="#3c3c3c" stroke-width="3.71"/>
<use href="#cu2" stroke="#5e5e5e" stroke-width="1.86"/>
<use href="#cu2" fill="#1c1c1c" stroke="#b0b0b0" stroke-width="0.95"/>
</g>
<g transform="translate(211.40 205.60) scale(0.260 0.26) translate(-211.4 -205.6)" fill="none">
<use href="#cu2" stroke="#262626" stroke-width="9.23"/>
<use href="#cu2" stroke="#3c3c3c" stroke-width="6.00"/>
<use href="#cu2" stroke="#5e5e5e" stroke-width="3.00"/>
<use href="#cu2" fill="#1c1c1c" stroke="#b0b0b0" stroke-width="1.54"/>
</g>
<g transform="translate(211.40 205.60) scale(0.120 0.12) translate(-211.4 -205.6)" fill="none">
<use href="#cu2" stroke="#262626" stroke-width="20.00"/>
<use href="#cu2" stroke="#3c3c3c" stroke-width="13.00"/>
<use href="#cu2" stroke="#5e5e5e" stroke-width="6.50"/>
<use href="#cu2" fill="#555" stroke="#b0b0b0" stroke-width="3.33"/>
</g>
</g>
<g filter="url(#bl)">
<defs><path id="cl2" d="M226.3,211.4 C227.4,211.4 228,211.8 228.3,213 C228.8,215 228.4,220.6 227.8,225.7 C227.2,230.4 226.6,234 225.5,237.7 C224.8,240.6 224.2,243.4 223.3,245.4 C222.2,247.6 220.4,248.4 218.8,248.1 C216.6,247.4 214.8,246.2 212.8,245.1 C210.2,243.6 207.8,242 205.4,240.8 C203.2,239.8 200.2,239 199.4,237.7 C198.4,236.2 198.2,234.6 198.7,233.2 C199.4,231.4 201,230.2 202.4,228.6 C204.6,226.2 206.4,223.8 208.4,221.3 C210.2,219.2 212,217.2 214.3,215.8 C217.6,213.6 222.6,211.6 226.3,211.4Z"/><clipPath id="cl2c"><use href="#cl2"/></clipPath></defs><use href="#cl2" fill="#050505"/>
<g clip-path="url(#cl2c)">
<use href="#cl2" transform="translate(215 229) scale(0.88) translate(-215 -229)" fill="#1a1a1a" stroke="#777" stroke-width="0.57"/>
<ellipse cx="216.8" cy="227.4" rx="7.9" ry="13.1" transform="rotate(14 216.8 227.4)" fill="none" stroke="#2c2c2c" stroke-width="3.00"/>
<ellipse cx="216.8" cy="227.4" rx="7.9" ry="13.1" transform="rotate(14 216.8 227.4)" fill="none" stroke="#4a4a4a" stroke-width="1.95"/>
<ellipse cx="216.8" cy="227.4" rx="7.9" ry="13.1" transform="rotate(14 216.8 227.4)" fill="none" stroke="#707070" stroke-width="0.98"/>
<ellipse cx="216.8" cy="227.4" rx="7.9" ry="13.1" transform="rotate(14 216.8 227.4)" fill="#1c1c1c" stroke="#b4b4b4" stroke-width="0.45"/>
<ellipse cx="217.1" cy="226" rx="6" ry="10.6" transform="rotate(13 217.1 226)" fill="none" stroke="#2c2c2c" stroke-width="3.00"/>
<ellipse cx="217.1" cy="226" rx="6" ry="10.6" transform="rotate(13 217.1 226)" fill="none" stroke="#4a4a4a" stroke-width="1.95"/>
<ellipse cx="217.1" cy="226" rx="6" ry="10.6" transform="rotate(13 217.1 226)" fill="none" stroke="#707070" stroke-width="0.98"/>
<ellipse cx="217.1" cy="226" rx="6" ry="10.6" transform="rotate(13 217.1 226)" fill="#1c1c1c" stroke="#b4b4b4" stroke-width="0.45"/>
<ellipse cx="217.4" cy="224.4" rx="4.1" ry="7.9" transform="rotate(12 217.4 224.4)" fill="none" stroke="#2c2c2c" stroke-width="3.00"/>
<ellipse cx="217.4" cy="224.4" rx="4.1" ry="7.9" transform="rotate(12 217.4 224.4)" fill="none" stroke="#4a4a4a" stroke-width="1.95"/>
<ellipse cx="217.4" cy="224.4" rx="4.1" ry="7.9" transform="rotate(12 217.4 224.4)" fill="none" stroke="#707070" stroke-width="0.98"/>
<ellipse cx="217.4" cy="224.4" rx="4.1" ry="7.9" transform="rotate(12 217.4 224.4)" fill="#1c1c1c" stroke="#b4b4b4" stroke-width="0.45"/>
<ellipse cx="217.6" cy="222" rx="2.2" ry="5" transform="rotate(12 217.6 222)" fill="none" stroke="#2c2c2c" stroke-width="3.00"/>
<ellipse cx="217.6" cy="222" rx="2.2" ry="5" transform="rotate(12 217.6 222)" fill="none" stroke="#4a4a4a" stroke-width="1.95"/>
<ellipse cx="217.6" cy="222" rx="2.2" ry="5" transform="rotate(12 217.6 222)" fill="none" stroke="#707070" stroke-width="0.98"/>
<ellipse cx="217.6" cy="222" rx="2.2" ry="5" transform="rotate(12 217.6 222)" fill="#0c0c0c" stroke="#b4b4b4" stroke-width="0.45"/>
</g></g>
<line x1="316.2" y1="189.875" x2="316.2" y2="274.325" stroke="#111" stroke-width="1.25" />
<line x1="315.575" y1="273.7" x2="359.5" y2="273.7" stroke="#111" stroke-width="1.25" />
<line x1="313.4" y1="190.5" x2="316.2" y2="190.5" stroke="#111" stroke-width="1.25" />
<line x1="313.4" y1="218.2" x2="316.2" y2="218.2" stroke="#111" stroke-width="1.25" />
<line x1="313.4" y1="245.9" x2="316.2" y2="245.9" stroke="#111" stroke-width="1.25" />
<line x1="313.4" y1="273.7" x2="316.2" y2="273.7" stroke="#111" stroke-width="1.25" />
<text x="313" y="193.65" font-size="8.8" text-anchor="end" fill="#111" stroke="#111" stroke-width="0.32" xml:space="preserve" >30</text>
<text x="313" y="221.35" font-size="8.8" text-anchor="end" fill="#111" stroke="#111" stroke-width="0.32" xml:space="preserve" >20</text>
<text x="313" y="249.05" font-size="8.8" text-anchor="end" fill="#111" stroke="#111" stroke-width="0.32" xml:space="preserve" >10</text>
<text x="313" y="276.84999999999997" font-size="8.8" text-anchor="end" fill="#111" stroke="#111" stroke-width="0.32" xml:space="preserve" >0</text>
<text x="337.8" y="179.5" font-size="8.5" text-anchor="middle" fill="#111" stroke="#111" stroke-width="0.31" xml:space="preserve" >p&lt;0.0001</text>
<polyline points="327.6,188.1 327.6,185.9 349,185.9 349,188.1" fill="none" stroke="#111" stroke-width="1.0"/>
<text x="280.8" y="230.8" font-size="9.0" text-anchor="middle" transform="rotate(-90 280.8 230.8)" fill="#111" stroke="#111" stroke-width="0.32" xml:space="preserve" >CD4<tspan font-size="6.8" dy="-2.8">+</tspan><tspan dy="2.8" font-size="0.5"> </tspan> FOXP3<tspan font-size="6.8" dy="-2.8">+</tspan><tspan dy="2.8" font-size="0.5"> </tspan> /</text>
<text x="294" y="230.8" font-size="9.0" text-anchor="middle" transform="rotate(-90 294 230.8)" fill="#111" stroke="#111" stroke-width="0.32" xml:space="preserve" >all CD4<tspan font-size="6.8" dy="-2.8">+</tspan><tspan dy="2.8" font-size="0.5"> </tspan> in % (Ileum)</text>
<circle cx="327.2" cy="237.9" r="2.15" fill="#fff" stroke="#111" stroke-width="1.05"/>
<circle cx="323.7" cy="246.6" r="2.15" fill="#fff" stroke="#111" stroke-width="1.05"/>
<circle cx="330.9" cy="246.2" r="2.15" fill="#fff" stroke="#111" stroke-width="1.05"/>
<circle cx="323.5" cy="249.8" r="2.15" fill="#fff" stroke="#111" stroke-width="1.05"/>
<circle cx="330.9" cy="249.5" r="2.15" fill="#fff" stroke="#111" stroke-width="1.05"/>
<circle cx="327.2" cy="253.2" r="2.15" fill="#fff" stroke="#111" stroke-width="1.05"/>
<circle cx="331.7" cy="256.8" r="2.15" fill="#fff" stroke="#111" stroke-width="1.05"/>
<circle cx="323.4" cy="260.8" r="2.15" fill="#fff" stroke="#111" stroke-width="1.05"/>
<circle cx="327.6" cy="260.3" r="2.15" fill="#fff" stroke="#111" stroke-width="1.05"/>
<circle cx="331.4" cy="262.6" r="2.15" fill="#fff" stroke="#111" stroke-width="1.05"/>
<circle cx="324.6" cy="263.4" r="2.15" fill="#fff" stroke="#111" stroke-width="1.05"/>
<circle cx="327.2" cy="267.1" r="2.15" fill="#fff" stroke="#111" stroke-width="1.05"/>
<line x1="320.0" y1="254.1" x2="335.20000000000005" y2="254.1" stroke="#111" stroke-width="1.3" />
<line x1="327.6" y1="251.2" x2="327.6" y2="256.8" stroke="#111" stroke-width="1.3" />
<line x1="323.5" y1="251.2" x2="331.70000000000005" y2="251.2" stroke="#111" stroke-width="1.3" />
<line x1="323.5" y1="256.8" x2="331.70000000000005" y2="256.8" stroke="#111" stroke-width="1.3" />
<rect x="346.35" y="190.25" width="4.9" height="4.9" fill="#0a0a0a"/>
<rect x="342.65" y="193.05" width="4.9" height="4.9" fill="#0a0a0a"/>
<rect x="350.15" y="198.65" width="4.9" height="4.9" fill="#0a0a0a"/>
<rect x="342.65" y="205.65" width="4.9" height="4.9" fill="#0a0a0a"/>
<rect x="350.15" y="203.95" width="4.9" height="4.9" fill="#0a0a0a"/>
<rect x="342.65" y="209.15" width="4.9" height="4.9" fill="#0a0a0a"/>
<rect x="350.15" y="208.35" width="4.9" height="4.9" fill="#0a0a0a"/>
<rect x="350.15" y="219.85" width="4.9" height="4.9" fill="#0a0a0a"/>
<rect x="342.65" y="222.35" width="4.9" height="4.9" fill="#0a0a0a"/>
<rect x="346.35" y="227.05" width="4.9" height="4.9" fill="#0a0a0a"/>
<rect x="346.35" y="244.95" width="4.9" height="4.9" fill="#0a0a0a"/>
<rect x="346.6" y="208.8" width="4.6" height="4.6" fill="#555"/>
<line x1="341.29999999999995" y1="213.6" x2="356.5" y2="213.6" stroke="#111" stroke-width="1.3" />
<line x1="348.9" y1="209" x2="348.9" y2="218.1" stroke="#111" stroke-width="1.3" />
<line x1="345.09999999999997" y1="209" x2="352.7" y2="209" stroke="#111" stroke-width="1.3" />
<line x1="345.09999999999997" y1="218.1" x2="352.7" y2="218.1" stroke="#111" stroke-width="1.3" />
<line x1="424.2" y1="189.375" x2="424.2" y2="274.325" stroke="#111" stroke-width="1.25" />
<line x1="423.575" y1="273.7" x2="467.5" y2="273.7" stroke="#111" stroke-width="1.25" />
<line x1="421.4" y1="190" x2="424.2" y2="190" stroke="#111" stroke-width="1.25" />
<line x1="421.4" y1="211.2" x2="424.2" y2="211.2" stroke="#111" stroke-width="1.25" />
<line x1="421.4" y1="231.8" x2="424.2" y2="231.8" stroke="#111" stroke-width="1.25" />
<line x1="421.4" y1="252.5" x2="424.2" y2="252.5" stroke="#111" stroke-width="1.25" />
<line x1="421.4" y1="273.7" x2="424.2" y2="273.7" stroke="#111" stroke-width="1.25" />
<text x="421.2" y="193.15" font-size="8.8" text-anchor="end" fill="#111" stroke="#111" stroke-width="0.32" xml:space="preserve" >40</text>
<text x="421.2" y="214.35" font-size="8.8" text-anchor="end" fill="#111" stroke="#111" stroke-width="0.32" xml:space="preserve" >30</text>
<text x="421.2" y="234.95000000000002" font-size="8.8" text-anchor="end" fill="#111" stroke="#111" stroke-width="0.32" xml:space="preserve" >20</text>
<text x="421.2" y="255.65" font-size="8.8" text-anchor="end" fill="#111" stroke="#111" stroke-width="0.32" xml:space="preserve" >10</text>
<text x="421.2" y="276.84999999999997" font-size="8.8" text-anchor="end" fill="#111" stroke="#111" stroke-width="0.32" xml:space="preserve" >0</text>
<text x="446" y="178.9" font-size="8.8" text-anchor="middle" fill="#111" stroke="#111" stroke-width="0.32" xml:space="preserve" >p=0.008</text>
<polyline points="435,188.0 435,185.8 456.2,185.8 456.2,188.0" fill="none" stroke="#111" stroke-width="1.0"/>
<text x="390.2" y="230.8" font-size="9.0" text-anchor="middle" transform="rotate(-90 390.2 230.8)" fill="#111" stroke="#111" stroke-width="0.32" xml:space="preserve" >CD4<tspan font-size="6.8" dy="-2.8">+</tspan><tspan dy="2.8" font-size="0.5"> </tspan> FOXP3<tspan font-size="6.8" dy="-2.8">+</tspan><tspan dy="2.8" font-size="0.5"> </tspan> /</text>
<text x="403.4" y="230.8" font-size="9.0" text-anchor="middle" transform="rotate(-90 403.4 230.8)" fill="#111" stroke="#111" stroke-width="0.32" xml:space="preserve" >all CD4<tspan font-size="6.8" dy="-2.8">+</tspan><tspan dy="2.8" font-size="0.5"> </tspan> in % (Colon)</text>
<circle cx="438" cy="254.5" r="2.15" fill="#fff" stroke="#111" stroke-width="1.05"/>
<circle cx="430.5" cy="257" r="2.15" fill="#fff" stroke="#111" stroke-width="1.05"/>
<circle cx="435" cy="258.8" r="2.15" fill="#fff" stroke="#111" stroke-width="1.05"/>
<circle cx="433" cy="261.2" r="2.15" fill="#fff" stroke="#111" stroke-width="1.05"/>
<circle cx="437.5" cy="262.5" r="2.15" fill="#fff" stroke="#111" stroke-width="1.05"/>
<circle cx="430.5" cy="263.8" r="2.15" fill="#fff" stroke="#111" stroke-width="1.05"/>
<circle cx="435" cy="266.2" r="2.15" fill="#fff" stroke="#111" stroke-width="1.05"/>
<circle cx="438.8" cy="265.5" r="2.15" fill="#fff" stroke="#111" stroke-width="1.05"/>
<line x1="427.55" y1="261.2" x2="442.05" y2="261.2" stroke="#111" stroke-width="1.3" />
<line x1="434.8" y1="259.8" x2="434.8" y2="262.6" stroke="#111" stroke-width="1.3" />
<line x1="434.8" y1="259.8" x2="434.8" y2="259.8" stroke="#111" stroke-width="1.3" />
<line x1="434.8" y1="262.6" x2="434.8" y2="262.6" stroke="#111" stroke-width="1.3" />
<rect x="449.95" y="193.45" width="4.9" height="4.9" fill="#0a0a0a"/>
<rect x="457.55" y="192.45" width="4.9" height="4.9" fill="#0a0a0a"/>
<rect x="453.75" y="197.35" width="4.9" height="4.9" fill="#0a0a0a"/>
<rect x="453.75" y="205.75" width="4.9" height="4.9" fill="#0a0a0a"/>
<rect x="453.75" y="215.75" width="4.9" height="4.9" fill="#0a0a0a"/>
<rect x="449.95" y="244.95" width="4.9" height="4.9" fill="#0a0a0a"/>
<rect x="457.55" y="244.15" width="4.9" height="4.9" fill="#0a0a0a"/>
<rect x="449.95" y="257.45" width="4.9" height="4.9" fill="#0a0a0a"/>
<rect x="457.55" y="258.75" width="4.9" height="4.9" fill="#0a0a0a"/>
<rect x="453.75" y="266.15" width="4.9" height="4.9" fill="#0a0a0a"/>
<line x1="448.45" y1="230.1" x2="463.95" y2="230.1" stroke="#111" stroke-width="1.3" />
<line x1="456.2" y1="220.6" x2="456.2" y2="239" stroke="#111" stroke-width="1.3" />
<line x1="452.2" y1="220.6" x2="460.2" y2="220.6" stroke="#111" stroke-width="1.3" />
<line x1="452.2" y1="239" x2="460.2" y2="239" stroke="#111" stroke-width="1.3" />
<text x="89" y="302.5" font-size="11.3" text-anchor="middle" fill="#111" stroke="#111" stroke-width="0.41" xml:space="preserve" >Vehicle</text>
<text x="204.6" y="302.5" font-size="11.4" text-anchor="middle" fill="#111" stroke="#111" stroke-width="0.41" xml:space="preserve" >Ruxolitinib</text>
<text x="31.6" y="386.4" font-size="9.5" text-anchor="start" transform="rotate(-90 31.6 386.4)" fill="#111" stroke="#111" stroke-width="0.34" xml:space="preserve" >CD4</text>
<line x1="28.3" y1="356.4" x2="28.3" y2="319.8" stroke="#111" stroke-width="1.3" />
<polygon points="28.3,315 25.6,320.8 31.0,320.8" fill="#111"/>
<text x="39.6" y="415.6" font-size="10.4" text-anchor="start" fill="#111" stroke="#111" stroke-width="0.37" xml:space="preserve" >IFN-γ</text>
<line x1="68.7" y1="411.6" x2="233.2" y2="411.6" stroke="#111" stroke-width="1.3" />
<polygon points="238,411.6 232.2,408.90000000000003 232.2,414.3" fill="#111"/>
<line x1="47.9" y1="305.2" x2="133.6" y2="305.2" stroke="#b8b8b8" stroke-width="0.8" />
<line x1="133.2" y1="305.2" x2="133.2" y2="313.4" stroke="#b8b8b8" stroke-width="0.8" />
<rect x="76.7" y="314" width="55.999999999999986" height="46.2" fill="none" stroke="#8a8a8a" stroke-width="0.7"/>
<line x1="161.3" y1="305.2" x2="245.4" y2="305.2" stroke="#b8b8b8" stroke-width="0.8" />
<line x1="245" y1="305.2" x2="245" y2="313.4" stroke="#b8b8b8" stroke-width="0.8" />
<rect x="189.5" y="314" width="55.0" height="46.2" fill="none" stroke="#8a8a8a" stroke-width="0.7"/>
<line x1="47.8" y1="305.2" x2="47.8" y2="393.29999999999995" stroke="#6a6a6a" stroke-width="0.65" />
<line x1="47.4" y1="392.9" x2="133.4" y2="392.9" stroke="#2a2a2a" stroke-width="0.8" />
<path d="M45.9,311.9h1.9M45.9,332.1h1.9M45.9,353.7h1.9M45.9,373.9h1.9M64.6,392.9v1.9M85.6,392.9v1.9M106.4,392.9v1.9M125.2,392.9v1.9M45.9,383.3h1.9M57.9,392.9v1.9" stroke="#2a2a2a" stroke-width="0.5" fill="none"/>
<path d="M46.8,326.0h1M46.8,322.5h1M46.8,319.9h1M46.8,318.0h1M46.8,316.4h1M46.8,315.0h1M46.8,313.9h1M46.8,312.8h1M46.8,347.2h1M46.8,343.4h1M46.8,340.7h1M46.8,338.6h1M46.8,336.9h1M46.8,335.4h1M46.8,334.2h1M46.8,333.1h1M46.8,367.8h1M46.8,364.3h1M46.8,361.7h1M46.8,359.8h1M46.8,358.2h1M46.8,356.8h1M46.8,355.7h1M46.8,354.6h1M70.9,392.9v1M74.6,392.9v1M77.2,392.9v1M79.3,392.9v1M80.9,392.9v1M82.3,392.9v1M83.6,392.9v1M84.6,392.9v1M91.9,392.9v1M95.5,392.9v1M98.1,392.9v1M100.1,392.9v1M101.8,392.9v1M103.2,392.9v1M104.4,392.9v1M105.4,392.9v1M112.1,392.9v1M115.4,392.9v1M117.7,392.9v1M119.5,392.9v1M121.0,392.9v1M122.3,392.9v1M123.4,392.9v1M124.3,392.9v1M46.8,378.1h1M46.8,379.4h1M46.8,380.7h1M46.8,382.0h1M46.8,383.3h1M46.8,384.6h1M46.8,385.9h1M46.8,387.2h1M46.8,388.5h1M51.9,392.9v1M53.1,392.9v1M54.3,392.9v1M55.5,392.9v1M56.7,392.9v1M57.9,392.9v1M59.1,392.9v1M60.3,392.9v1M61.5,392.9v1M62.7,392.9v1M63.9,392.9v1" stroke="#2a2a2a" stroke-width="0.4" fill="none"/>
<line x1="161.3" y1="305.2" x2="161.3" y2="393.29999999999995" stroke="#6a6a6a" stroke-width="0.65" />
<line x1="160.9" y1="392.9" x2="245.2" y2="392.9" stroke="#2a2a2a" stroke-width="0.8" />
<path d="M159.4,311.2h1.9M159.4,331.8h1.9M159.4,352.5h1.9M159.4,373.2h1.9M178.8,392.9v1.9M199.5,392.9v1.9M218.8,392.9v1.9M237.0,392.9v1.9M159.4,383.2h1.9M170.8,392.9v1.9" stroke="#2a2a2a" stroke-width="0.5" fill="none"/>
<path d="M160.3,325.6h1M160.3,322.0h1M160.3,319.4h1M160.3,317.4h1M160.3,315.8h1M160.3,314.4h1M160.3,313.2h1M160.3,312.1h1M160.3,346.3h1M160.3,342.6h1M160.3,340.0h1M160.3,338.0h1M160.3,336.4h1M160.3,335.0h1M160.3,333.8h1M160.3,332.7h1M160.3,367.0h1M160.3,363.3h1M160.3,360.7h1M160.3,358.7h1M160.3,357.1h1M160.3,355.7h1M160.3,354.5h1M160.3,353.4h1M185.0,392.9v1M188.7,392.9v1M191.3,392.9v1M193.3,392.9v1M194.9,392.9v1M196.3,392.9v1M197.5,392.9v1M198.6,392.9v1M205.3,392.9v1M208.7,392.9v1M211.1,392.9v1M213.0,392.9v1M214.5,392.9v1M215.8,392.9v1M216.9,392.9v1M217.9,392.9v1M224.3,392.9v1M227.5,392.9v1M229.8,392.9v1M231.5,392.9v1M233.0,392.9v1M234.2,392.9v1M235.2,392.9v1M236.2,392.9v1M160.3,378.0h1M160.3,379.3h1M160.3,380.6h1M160.3,381.9h1M160.3,383.2h1M160.3,384.5h1M160.3,385.8h1M160.3,387.1h1M160.3,388.4h1M164.8,392.9v1M166.0,392.9v1M167.2,392.9v1M168.4,392.9v1M169.6,392.9v1M170.8,392.9v1M172.0,392.9v1M173.2,392.9v1M174.4,392.9v1M175.6,392.9v1M176.8,392.9v1" stroke="#2a2a2a" stroke-width="0.4" fill="none"/>
<text x="44.3" y="313.0" font-size="3.7" text-anchor="end" fill="#1a1a1a" stroke="#1a1a1a" stroke-width="0.13" xml:space="preserve" >10<tspan font-size="2.6" dy="-1.4">5</tspan></text>
<text x="44.3" y="333.20000000000005" font-size="3.7" text-anchor="end" fill="#1a1a1a" stroke="#1a1a1a" stroke-width="0.13" xml:space="preserve" >10<tspan font-size="2.6" dy="-1.4">4</tspan></text>
<text x="44.3" y="354.8" font-size="3.7" text-anchor="end" fill="#1a1a1a" stroke="#1a1a1a" stroke-width="0.13" xml:space="preserve" >10<tspan font-size="2.6" dy="-1.4">3</tspan></text>
<text x="44.3" y="375.0" font-size="3.7" text-anchor="end" fill="#1a1a1a" stroke="#1a1a1a" stroke-width="0.13" xml:space="preserve" >10<tspan font-size="2.6" dy="-1.4">2</tspan></text>
<text x="44.3" y="384.40000000000003" font-size="3.7" text-anchor="end" fill="#1a1a1a" stroke="#1a1a1a" stroke-width="0.13" xml:space="preserve" >0</text>
<text x="157.7" y="312.3" font-size="3.7" text-anchor="end" fill="#1a1a1a" stroke="#1a1a1a" stroke-width="0.13" xml:space="preserve" >10<tspan font-size="2.6" dy="-1.4">5</tspan></text>
<text x="157.7" y="332.90000000000003" font-size="3.7" text-anchor="end" fill="#1a1a1a" stroke="#1a1a1a" stroke-width="0.13" xml:space="preserve" >10<tspan font-size="2.6" dy="-1.4">4</tspan></text>
<text x="157.7" y="353.6" font-size="3.7" text-anchor="end" fill="#1a1a1a" stroke="#1a1a1a" stroke-width="0.13" xml:space="preserve" >10<tspan font-size="2.6" dy="-1.4">3</tspan></text>
<text x="157.7" y="374.3" font-size="3.7" text-anchor="end" fill="#1a1a1a" stroke="#1a1a1a" stroke-width="0.13" xml:space="preserve" >10<tspan font-size="2.6" dy="-1.4">2</tspan></text>
<text x="157.7" y="384.3" font-size="3.7" text-anchor="end" fill="#1a1a1a" stroke="#1a1a1a" stroke-width="0.13" xml:space="preserve" >0</text>
<text x="57.9" y="400.6" font-size="3.7" text-anchor="middle" fill="#1a1a1a" stroke="#1a1a1a" stroke-width="0.13" xml:space="preserve" >0</text>
<text x="64.6" y="400.6" font-size="3.7" text-anchor="middle" fill="#1a1a1a" stroke="#1a1a1a" stroke-width="0.13" xml:space="preserve" >10<tspan font-size="2.6" dy="-1.4">2</tspan></text>
<text x="85.6" y="400.6" font-size="3.7" text-anchor="middle" fill="#1a1a1a" stroke="#1a1a1a" stroke-width="0.13" xml:space="preserve" >10<tspan font-size="2.6" dy="-1.4">3</tspan></text>
<text x="106.4" y="400.6" font-size="3.7" text-anchor="middle" fill="#1a1a1a" stroke="#1a1a1a" stroke-width="0.13" xml:space="preserve" >10<tspan font-size="2.6" dy="-1.4">4</tspan></text>
<text x="125.2" y="400.6" font-size="3.7" text-anchor="middle" fill="#1a1a1a" stroke="#1a1a1a" stroke-width="0.13" xml:space="preserve" >10<tspan font-size="2.6" dy="-1.4">5</tspan></text>
<text x="170.8" y="401" font-size="3.7" text-anchor="middle" fill="#1a1a1a" stroke="#1a1a1a" stroke-width="0.13" xml:space="preserve" >0</text>
<text x="178.8" y="401" font-size="3.7" text-anchor="middle" fill="#1a1a1a" stroke="#1a1a1a" stroke-width="0.13" xml:space="preserve" >10<tspan font-size="2.6" dy="-1.4">2</tspan></text>
<text x="199.5" y="401" font-size="3.7" text-anchor="middle" fill="#1a1a1a" stroke="#1a1a1a" stroke-width="0.13" xml:space="preserve" >10<tspan font-size="2.6" dy="-1.4">3</tspan></text>
<text x="218.8" y="401" font-size="3.7" text-anchor="middle" fill="#1a1a1a" stroke="#1a1a1a" stroke-width="0.13" xml:space="preserve" >10<tspan font-size="2.6" dy="-1.4">4</tspan></text>
<text x="237" y="401" font-size="3.7" text-anchor="middle" fill="#1a1a1a" stroke="#1a1a1a" stroke-width="0.13" xml:space="preserve" >10<tspan font-size="2.6" dy="-1.4">5</tspan></text>
<rect x="111.6" y="313.4" width="27" height="19.1" fill="#fff"/>
<rect x="229" y="318.8" width="22" height="14.8" fill="#fff"/>
<text x="127.9" y="327.2" font-size="9.1" text-anchor="middle" fill="#111" stroke="#111" stroke-width="0.33" xml:space="preserve" >66.4</text>
<text x="240" y="328" font-size="9.1" text-anchor="middle" fill="#111" stroke="#111" stroke-width="0.33" xml:space="preserve" >23.6</text>
<g filter="url(#bl)">
<defs><path id="eb1" d="M62,335 C62.2,331.4 64,328 66.7,326 C69.4,324.2 72.6,323.6 76.3,323.6 C81.6,323.6 86.8,324.4 91.8,324.9 C96,325.3 100.4,325.8 104,326.8 C107,327.6 110.2,328.4 111.6,330.4 C112.6,331.8 112.8,333.6 112.6,335.4 C112.3,337.6 111.6,339.6 110,341.2 C106.4,344.4 100.4,345.8 95.3,347 C90.2,348.5 85,349.6 79.8,350.6 C77.4,351.1 74.8,351.8 72.7,351.2 C70.2,350.4 68.2,348 66.7,345.8 C65.2,343.8 63.6,342 62.6,339.8 C62,338.4 61.9,336.6 62,335Z"/><clipPath id="eb1c"><use href="#eb1"/></clipPath></defs><use href="#eb1" fill="#050505"/>
<g clip-path="url(#eb1c)">
<use href="#eb1" transform="translate(86 337) scale(0.9) translate(-86 -337)" fill="#1a1a1a" stroke="#777" stroke-width="0.56"/>
<ellipse cx="84.6" cy="336.8" rx="18.2" ry="10.6" transform="rotate(-6 84.6 336.8)" fill="none" stroke="#2c2c2c" stroke-width="3.00"/>
<ellipse cx="84.6" cy="336.8" rx="18.2" ry="10.6" transform="rotate(-6 84.6 336.8)" fill="none" stroke="#4a4a4a" stroke-width="1.95"/>
<ellipse cx="84.6" cy="336.8" rx="18.2" ry="10.6" transform="rotate(-6 84.6 336.8)" fill="none" stroke="#707070" stroke-width="0.98"/>
<ellipse cx="84.6" cy="336.8" rx="18.2" ry="10.6" transform="rotate(-6 84.6 336.8)" fill="#1c1c1c" stroke="#a8a8a8" stroke-width="0.45"/>
<ellipse cx="82.8" cy="336.5" rx="14.9" ry="8.4" transform="rotate(-5 82.8 336.5)" fill="none" stroke="#2c2c2c" stroke-width="3.00"/>
<ellipse cx="82.8" cy="336.5" rx="14.9" ry="8.4" transform="rotate(-5 82.8 336.5)" fill="none" stroke="#4a4a4a" stroke-width="1.95"/>
<ellipse cx="82.8" cy="336.5" rx="14.9" ry="8.4" transform="rotate(-5 82.8 336.5)" fill="none" stroke="#707070" stroke-width="0.98"/>
<ellipse cx="82.8" cy="336.5" rx="14.9" ry="8.4" transform="rotate(-5 82.8 336.5)" fill="#1c1c1c" stroke="#a8a8a8" stroke-width="0.45"/>
<ellipse cx="82.2" cy="335.8" rx="11.6" ry="6" transform="rotate(-4 82.2 335.8)" fill="none" stroke="#2c2c2c" stroke-width="3.00"/>
<ellipse cx="82.2" cy="335.8" rx="11.6" ry="6" transform="rotate(-4 82.2 335.8)" fill="none" stroke="#4a4a4a" stroke-width="1.95"/>
<ellipse cx="82.2" cy="335.8" rx="11.6" ry="6" transform="rotate(-4 82.2 335.8)" fill="none" stroke="#707070" stroke-width="0.98"/>
<ellipse cx="82.2" cy="335.8" rx="11.6" ry="6" transform="rotate(-4 82.2 335.8)" fill="#1c1c1c" stroke="#a8a8a8" stroke-width="0.45"/>
<ellipse cx="81.6" cy="335.3" rx="8.4" ry="3.8" transform="rotate(-3 81.6 335.3)" fill="none" stroke="#2c2c2c" stroke-width="3.00"/>
<ellipse cx="81.6" cy="335.3" rx="8.4" ry="3.8" transform="rotate(-3 81.6 335.3)" fill="none" stroke="#4a4a4a" stroke-width="1.95"/>
<ellipse cx="81.6" cy="335.3" rx="8.4" ry="3.8" transform="rotate(-3 81.6 335.3)" fill="none" stroke="#707070" stroke-width="0.98"/>
<ellipse cx="81.6" cy="335.3" rx="8.4" ry="3.8" transform="rotate(-3 81.6 335.3)" fill="#1a1a1a" stroke="#a8a8a8" stroke-width="0.45"/>
</g></g>
<path d="M100,328.5 C104,329.6 109.6,331.4 110.4,333.8 C110.8,336.4 108.6,339.4 105.4,341.4 C103,342.8 101,343.6 99,344.2 C103,340 104,333 100,328.5Z" fill="url(#rg2)" opacity="0.75" filter="url(#bl)"/>
<ellipse cx="83.8" cy="335.3" rx="1.2" ry="0.5" fill="#ddd" filter="url(#bl)"/>
<g filter="url(#bl)">
<path d="M168.2,337.5 C168,333 169.6,328.6 172.3,325.5 C174.2,323.2 176.6,321.6 179.5,321.4 C182.4,321.2 185.2,321.8 187.8,322.6 C189.6,323.2 190.8,324.8 192.6,324.9 C195,325 197.4,323.8 199.8,323.7 C203.8,323.6 208,324.4 211.7,325.5 C214.6,326.4 218,327.2 220,329.1 C221.4,330.4 222.5,332 222.4,333.9 C222.3,336.8 221,339.8 218.8,341.6 C216.8,343.4 214.4,345 211.7,345.8 C207.8,346.8 203.6,346.2 199.8,346.4 C197.4,346.6 194.4,346.8 192.6,348.2 C190.8,349.4 190.4,351.6 189,353 C187.4,354.6 185.4,356.2 183.1,356.5 C180.6,356.8 177.8,355.8 175.9,354.1 C173.6,352.2 171.4,349.8 170,347 C168.8,344.2 168.4,340.6 168.2,337.5Z" fill="#050505"/>
<path d="M192,327 C198,326 208,326.6 214,328.4 C218,329.8 220,332 219.6,334.6 C219.2,338 216,341.4 211,343 C205,344.6 198,344 192,345Z" fill="url(#rg3)"/>
<ellipse cx="181.4" cy="338.4" rx="12.2" ry="16.8" transform="rotate(-6 181.4 338.4)" fill="none" stroke="#3a3a3a" stroke-width="1.3"/>
<ellipse cx="181.4" cy="338.4" rx="11.6" ry="16.2" transform="rotate(-6 181.4 338.4)" fill="#181818" stroke="#a8a8a8" stroke-width="0.5"/>
<ellipse cx="181.4" cy="338.4" rx="8.9" ry="13.2" transform="rotate(-6 181.4 338.4)" fill="none" stroke="#484848" stroke-width="1.3"/>
<ellipse cx="181.4" cy="338.4" rx="8.3" ry="12.6" transform="rotate(-6 181.4 338.4)" fill="#181818" stroke="#d0d0d0" stroke-width="0.55"/>
<ellipse cx="181.4" cy="338.4" rx="6.0" ry="8.9" transform="rotate(-6 181.4 338.4)" fill="none" stroke="#505050" stroke-width="1.3"/>
<ellipse cx="181.4" cy="338.4" rx="5.4" ry="8.3" transform="rotate(-6 181.4 338.4)" fill="#181818" stroke="#d4d4d4" stroke-width="0.55"/>
<ellipse cx="181.4" cy="338.4" rx="3.5" ry="5.3" transform="rotate(-6 181.4 338.4)" fill="none" stroke="#444" stroke-width="1.3"/>
<ellipse cx="181.4" cy="338.4" rx="2.9" ry="4.7" transform="rotate(-6 181.4 338.4)" fill="#181818" stroke="#c0c0c0" stroke-width="0.5"/>
<ellipse cx="181.2" cy="336.6" rx="1.5" ry="2.6" fill="#050505"/>
<path d="M190,332.8 C193.6,334 198,334.2 201.4,335.2 C198,336 194,336.6 190.8,338.2" fill="#444" stroke="#a8a8a8" stroke-width="0.5"/>
</g>
<line x1="319.5" y1="310.175" x2="319.5" y2="394.825" stroke="#111" stroke-width="1.25" />
<line x1="318.875" y1="394.2" x2="363.8" y2="394.2" stroke="#111" stroke-width="1.25" />
<line x1="316.7" y1="310.8" x2="319.5" y2="310.8" stroke="#111" stroke-width="1.25" />
<line x1="316.7" y1="331.7" x2="319.5" y2="331.7" stroke="#111" stroke-width="1.25" />
<line x1="316.7" y1="352.5" x2="319.5" y2="352.5" stroke="#111" stroke-width="1.25" />
<line x1="316.7" y1="373.3" x2="319.5" y2="373.3" stroke="#111" stroke-width="1.25" />
<line x1="316.7" y1="394.2" x2="319.5" y2="394.2" stroke="#111" stroke-width="1.25" />
<text x="316.4" y="314.0" font-size="9" text-anchor="end" fill="#111" stroke="#111" stroke-width="0.32" xml:space="preserve" >80</text>
<text x="316.4" y="334.9" font-size="9" text-anchor="end" fill="#111" stroke="#111" stroke-width="0.32" xml:space="preserve" >60</text>
<text x="316.4" y="355.7" font-size="9" text-anchor="end" fill="#111" stroke="#111" stroke-width="0.32" xml:space="preserve" >40</text>
<text x="316.4" y="376.5" font-size="9" text-anchor="end" fill="#111" stroke="#111" stroke-width="0.32" xml:space="preserve" >20</text>
<text x="316.4" y="397.4" font-size="9" text-anchor="end" fill="#111" stroke="#111" stroke-width="0.32" xml:space="preserve" >0</text>
<text x="341.4" y="299.3" font-size="8.75" text-anchor="middle" fill="#111" stroke="#111" stroke-width="0.32" xml:space="preserve" >p&lt;0.0001</text>
<polyline points="331.2,308.59999999999997 331.2,306.4 353.1,306.4 353.1,308.59999999999997" fill="none" stroke="#111" stroke-width="1.0"/>
<text x="288" y="351.5" font-size="9.0" text-anchor="middle" transform="rotate(-90 288 351.5)" fill="#111" stroke="#111" stroke-width="0.32" xml:space="preserve" >CD4<tspan font-size="6.8" dy="-2.8">+</tspan><tspan dy="2.8" font-size="0.5"> </tspan>IFN-γ<tspan font-size="6.8" dy="-2.8">+</tspan><tspan dy="2.8" font-size="0.5"> </tspan> cells /</text>
<text x="300.6" y="351.5" font-size="9.0" text-anchor="middle" transform="rotate(-90 300.6 351.5)" fill="#111" stroke="#111" stroke-width="0.32" xml:space="preserve" >CD4<tspan font-size="6.8" dy="-2.8">+</tspan><tspan dy="2.8" font-size="0.5"> </tspan> cells (Ileum)</text>
<circle cx="327.7" cy="323.4" r="2.35" fill="#fff" stroke="#111" stroke-width="1.15"/>
<circle cx="335.1" cy="323.1" r="2.35" fill="#fff" stroke="#111" stroke-width="1.15"/>
<circle cx="331.4" cy="330.1" r="2.35" fill="#fff" stroke="#111" stroke-width="1.15"/>
<circle cx="335.1" cy="333.9" r="2.35" fill="#fff" stroke="#111" stroke-width="1.15"/>
<circle cx="327.2" cy="338.5" r="2.35" fill="#fff" stroke="#111" stroke-width="1.15"/>
<circle cx="331.2" cy="339.2" r="2.35" fill="#fff" stroke="#111" stroke-width="1.15"/>
<circle cx="334.9" cy="340.1" r="2.35" fill="#fff" stroke="#111" stroke-width="1.15"/>
<circle cx="327.8" cy="342.6" r="2.35" fill="#fff" stroke="#111" stroke-width="1.15"/>
<circle cx="331.6" cy="343" r="2.35" fill="#fff" stroke="#111" stroke-width="1.15"/>
<circle cx="327.2" cy="346.1" r="2.35" fill="#fff" stroke="#111" stroke-width="1.15"/>
<circle cx="335.1" cy="346.5" r="2.35" fill="#fff" stroke="#111" stroke-width="1.15"/>
<circle cx="331.4" cy="357.3" r="2.35" fill="#fff" stroke="#111" stroke-width="1.15"/>
<line x1="323.9" y1="339" x2="338.9" y2="339" stroke="#111" stroke-width="1.3" />
<line x1="331.4" y1="337.2" x2="331.4" y2="341.8" stroke="#111" stroke-width="1.3" />
<line x1="328.4" y1="337.2" x2="334.4" y2="337.2" stroke="#111" stroke-width="1.3" />
<line x1="328.4" y1="341.8" x2="334.4" y2="341.8" stroke="#111" stroke-width="1.3" />
<rect x="354.35" y="345.35" width="4.9" height="4.9" fill="#0a0a0a"/>
<rect x="347.05" y="347.85" width="4.9" height="4.9" fill="#0a0a0a"/>
<rect x="350.65" y="350.75" width="4.9" height="4.9" fill="#0a0a0a"/>
<rect x="349.35" y="354.35" width="4.9" height="4.9" fill="#0a0a0a"/>
<rect x="352.35" y="355.75" width="4.9" height="4.9" fill="#0a0a0a"/>
<rect x="346.55" y="359.05" width="4.9" height="4.9" fill="#0a0a0a"/>
<rect x="350.55" y="359.35" width="4.9" height="4.9" fill="#0a0a0a"/>
<rect x="354.35" y="359.05" width="4.9" height="4.9" fill="#0a0a0a"/>
<rect x="346.55" y="365.75" width="4.9" height="4.9" fill="#0a0a0a"/>
<rect x="350.65" y="364.95" width="4.9" height="4.9" fill="#0a0a0a"/>
<rect x="354.35" y="368.25" width="4.9" height="4.9" fill="#0a0a0a"/>
<rect x="350.65" y="377.45" width="4.9" height="4.9" fill="#0a0a0a"/>
<line x1="345.6" y1="361.5" x2="360.6" y2="361.5" stroke="#111" stroke-width="1.3" />
<line x1="353.1" y1="358" x2="353.1" y2="365" stroke="#111" stroke-width="1.3" />
<line x1="349.35" y1="358" x2="356.85" y2="358" stroke="#111" stroke-width="1.3" />
<line x1="349.35" y1="365" x2="356.85" y2="365" stroke="#111" stroke-width="1.3" />
<circle cx="396.6" cy="343" r="2.5" fill="#fff" stroke="#111" stroke-width="1.15"/>
<text x="406.2" y="346.6" font-size="9.05" text-anchor="start" fill="#111" stroke="#111" stroke-width="0.33" xml:space="preserve" >Vehicle</text>
<rect x="394.15" y="353.95" width="4.9" height="4.9" fill="#0a0a0a"/>
<text x="406.2" y="359.65" font-size="9.05" text-anchor="start" fill="#111" stroke="#111" stroke-width="0.33" xml:space="preserve" >Ruxolitinib</text>
<line x1="73.2" y1="436.7" x2="73.2" y2="547.5999999999999" stroke="#111" stroke-width="1.6" />
<line x1="72.4" y1="546.8" x2="294.5" y2="546.8" stroke="#111" stroke-width="1.6" />
<line x1="69.60000000000001" y1="437.5" x2="73.2" y2="437.5" stroke="#111" stroke-width="1.6" />
<line x1="69.60000000000001" y1="464.8" x2="73.2" y2="464.8" stroke="#111" stroke-width="1.6" />
<line x1="69.60000000000001" y1="492.1" x2="73.2" y2="492.1" stroke="#111" stroke-width="1.6" />
<line x1="69.60000000000001" y1="519.4" x2="73.2" y2="519.4" stroke="#111" stroke-width="1.6" />
<line x1="69.60000000000001" y1="546.8" x2="73.2" y2="546.8" stroke="#111" stroke-width="1.6" />
<text x="68.4" y="441.15" font-size="10.2" text-anchor="end" fill="#111" stroke="#111" stroke-width="0.37" xml:space="preserve" >20</text>
<text x="68.4" y="468.45" font-size="10.2" text-anchor="end" fill="#111" stroke="#111" stroke-width="0.37" xml:space="preserve" >15</text>
<text x="68.4" y="495.75" font-size="10.2" text-anchor="end" fill="#111" stroke="#111" stroke-width="0.37" xml:space="preserve" >10</text>
<text x="68.4" y="523.05" font-size="10.2" text-anchor="end" fill="#111" stroke="#111" stroke-width="0.37" xml:space="preserve" >5</text>
<text x="68.4" y="550.4499999999999" font-size="10.2" text-anchor="end" fill="#111" stroke="#111" stroke-width="0.37" xml:space="preserve" >0</text>
<text x="31.4" y="533.7" font-size="10" text-anchor="start" transform="rotate(-90 31.4 533.7)" textLength="85" lengthAdjust="spacing" fill="#111" stroke="#111" stroke-width="0.36" xml:space="preserve" >CD4<tspan font-size="7.2" dy="-3.2">+</tspan><tspan dy="3.2" font-size="0.5"> </tspan> FoxP3<tspan font-size="7.2" dy="-3.2">+</tspan><tspan dy="3.2" font-size="0.5"> </tspan> cells</text>
<text x="46.2" y="539.9" font-size="10" text-anchor="start" transform="rotate(-90 46.2 539.9)" textLength="97.8" lengthAdjust="spacing" fill="#111" stroke="#111" stroke-width="0.36" xml:space="preserve" >of all CD4<tspan font-size="7.2" dy="-3.2">+</tspan><tspan dy="3.2" font-size="0.5"> </tspan> cells (%)</text>
<rect x="76.1" y="527.2" width="18.1" height="19.59999999999991" fill="#050505"/>
<line x1="85.14999999999999" y1="546.8" x2="85.14999999999999" y2="550.4" stroke="#111" stroke-width="1.5" />
<text x="85" y="565.7" font-size="9.4" text-anchor="middle" fill="#111" stroke="#111" stroke-width="0.34" xml:space="preserve" >0</text>
<rect x="101.1" y="524.1" width="18.1" height="22.699999999999932" fill="#050505"/>
<line x1="110.14999999999999" y1="524.1" x2="110.14999999999999" y2="513.8" stroke="#111" stroke-width="1.5" />
<line x1="105.44999999999999" y1="513.8" x2="114.85" y2="513.8" stroke="#111" stroke-width="1.6" />
<line x1="110.14999999999999" y1="546.8" x2="110.14999999999999" y2="550.4" stroke="#111" stroke-width="1.5" />
<text x="109.5" y="565.7" font-size="9.4" text-anchor="middle" fill="#111" stroke="#111" stroke-width="0.34" xml:space="preserve" >1</text>
<rect x="125.7" y="508.4" width="18.1" height="38.39999999999998" fill="#050505"/>
<line x1="134.75" y1="508.4" x2="134.75" y2="507.6" stroke="#111" stroke-width="1.5" />
<line x1="130.25" y1="507.6" x2="139.25" y2="507.6" stroke="#111" stroke-width="1.6" />
<line x1="134.75" y1="546.8" x2="134.75" y2="550.4" stroke="#111" stroke-width="1.5" />
<text x="134.6" y="565.7" font-size="9.4" text-anchor="middle" fill="#111" stroke="#111" stroke-width="0.34" xml:space="preserve" >0.3</text>
<text x="135.1" y="503.45" font-size="10" text-anchor="middle" fill="#111" stroke="#111" stroke-width="0.36" xml:space="preserve" letter-spacing="0.7">**</text>
<rect x="150.8" y="501.8" width="18.1" height="44.99999999999994" fill="#050505"/>
<line x1="159.85000000000002" y1="501.8" x2="159.85000000000002" y2="498.8" stroke="#111" stroke-width="1.5" />
<line x1="155.35000000000002" y1="498.8" x2="164.35000000000002" y2="498.8" stroke="#111" stroke-width="1.6" />
<line x1="159.85000000000002" y1="546.8" x2="159.85000000000002" y2="550.4" stroke="#111" stroke-width="1.5" />
<text x="159.2" y="565.7" font-size="9.4" text-anchor="middle" fill="#111" stroke="#111" stroke-width="0.34" xml:space="preserve" >0.1</text>
<text x="160.20000000000002" y="498.84999999999997" font-size="10" text-anchor="middle" fill="#111" stroke="#111" stroke-width="0.36" xml:space="preserve" letter-spacing="0.7">**</text>
<rect x="175.3" y="504.4" width="18.1" height="42.39999999999998" fill="#050505"/>
<line x1="184.35000000000002" y1="504.4" x2="184.35000000000002" y2="502.5" stroke="#111" stroke-width="1.5" />
<line x1="179.85000000000002" y1="502.5" x2="188.85000000000002" y2="502.5" stroke="#111" stroke-width="1.6" />
<line x1="184.35000000000002" y1="546.8" x2="184.35000000000002" y2="550.4" stroke="#111" stroke-width="1.5" />
<text x="185.7" y="565.7" font-size="9.4" text-anchor="middle" fill="#111" stroke="#111" stroke-width="0.34" xml:space="preserve" >0.03</text>
<text x="184.70000000000002" y="499.25" font-size="10" text-anchor="middle" fill="#111" stroke="#111" stroke-width="0.36" xml:space="preserve" letter-spacing="0.7">**</text>
<rect x="200.1" y="502.5" width="18.1" height="44.299999999999955" fill="#050505"/>
<line x1="209.15" y1="502.5" x2="209.15" y2="493.2" stroke="#111" stroke-width="1.5" />
<line x1="204.25" y1="493.2" x2="214.05" y2="493.2" stroke="#111" stroke-width="1.6" />
<line x1="209.15" y1="546.8" x2="209.15" y2="550.4" stroke="#111" stroke-width="1.5" />
<text x="210.8" y="565.7" font-size="9.4" text-anchor="middle" fill="#111" stroke="#111" stroke-width="0.34" xml:space="preserve" >0.01</text>
<text x="209.5" y="491.15" font-size="10" text-anchor="middle" fill="#111" stroke="#111" stroke-width="0.36" xml:space="preserve" letter-spacing="0.7">**</text>
<rect x="224.7" y="494.6" width="18.1" height="52.19999999999993" fill="#050505"/>
<line x1="233.75" y1="494.6" x2="233.75" y2="492.7" stroke="#111" stroke-width="1.5" />
<line x1="229.25" y1="492.7" x2="238.25" y2="492.7" stroke="#111" stroke-width="1.6" />
<line x1="233.75" y1="546.8" x2="233.75" y2="550.4" stroke="#111" stroke-width="1.5" />
<text x="235.6" y="565.7" font-size="9.4" text-anchor="middle" fill="#111" stroke="#111" stroke-width="0.34" xml:space="preserve" >0.003</text>
<text x="234.1" y="489.45" font-size="10" text-anchor="middle" fill="#111" stroke="#111" stroke-width="0.36" xml:space="preserve" letter-spacing="0.7">**</text>
<rect x="249.8" y="481.6" width="18.1" height="65.19999999999993" fill="#050505"/>
<line x1="258.85" y1="481.6" x2="258.85" y2="477.5" stroke="#111" stroke-width="1.5" />
<line x1="254.05" y1="477.5" x2="263.65000000000003" y2="477.5" stroke="#111" stroke-width="1.6" />
<line x1="258.85" y1="546.8" x2="258.85" y2="550.4" stroke="#111" stroke-width="1.5" />
<text x="263.1" y="565.7" font-size="9.4" text-anchor="middle" fill="#111" stroke="#111" stroke-width="0.34" xml:space="preserve" >0.001</text>
<text x="259.20000000000005" y="477.04999999999995" font-size="10" text-anchor="middle" fill="#111" stroke="#111" stroke-width="0.36" xml:space="preserve" letter-spacing="0.7">**</text>
<rect x="274.4" y="455.1" width="18.1" height="91.69999999999993" fill="#050505"/>
<line x1="283.45" y1="455.1" x2="283.45" y2="454.8" stroke="#111" stroke-width="1.5" />
<line x1="278.95" y1="454.8" x2="287.95" y2="454.8" stroke="#111" stroke-width="1.6" />
<line x1="283.45" y1="546.8" x2="283.45" y2="550.4" stroke="#111" stroke-width="1.5" />
<text x="292.1" y="565.7" font-size="9.4" text-anchor="middle" fill="#111" stroke="#111" stroke-width="0.34" xml:space="preserve" >0.0003</text>
<text x="283.8" y="451.84999999999997" font-size="10" text-anchor="middle" fill="#111" stroke="#111" stroke-width="0.36" xml:space="preserve" letter-spacing="0.7">**</text>
<text x="2.2" y="565.7" font-size="9.75" text-anchor="start" fill="#111" stroke="#111" stroke-width="0.35" xml:space="preserve" >Ruxolitinib (µM)</text>
<line x1="386.4" y1="440.65" x2="386.4" y2="491.2" stroke="#111" stroke-width="1.5" />
<line x1="386.4" y1="497.6" x2="386.4" y2="545.85" stroke="#111" stroke-width="1.5" />
<line x1="385.65" y1="545.1" x2="517.4" y2="545.1" stroke="#111" stroke-width="1.5" />
<line x1="383.0" y1="441.4" x2="386.4" y2="441.4" stroke="#111" stroke-width="1.5" />
<line x1="383.0" y1="458.3" x2="386.4" y2="458.3" stroke="#111" stroke-width="1.5" />
<line x1="383.0" y1="475" x2="386.4" y2="475" stroke="#111" stroke-width="1.5" />
<line x1="383.0" y1="498" x2="386.4" y2="498" stroke="#111" stroke-width="1.5" />
<line x1="383.0" y1="513.6" x2="386.4" y2="513.6" stroke="#111" stroke-width="1.5" />
<line x1="383.0" y1="529.4" x2="386.4" y2="529.4" stroke="#111" stroke-width="1.5" />
<line x1="383.0" y1="545.1" x2="386.4" y2="545.1" stroke="#111" stroke-width="1.5" />
<line x1="384.59999999999997" y1="491.1" x2="388.2" y2="491.1" stroke="#111" stroke-width="1.1" />
<line x1="384.59999999999997" y1="497.7" x2="388.2" y2="497.7" stroke="#111" stroke-width="1.1" />
<text x="382.2" y="444.59999999999997" font-size="8.9" text-anchor="end" fill="#111" stroke="#111" stroke-width="0.32" xml:space="preserve" >3.0</text>
<text x="382.2" y="461.5" font-size="8.9" text-anchor="end" fill="#111" stroke="#111" stroke-width="0.32" xml:space="preserve" >2.5</text>
<text x="382.2" y="478.2" font-size="8.9" text-anchor="end" fill="#111" stroke="#111" stroke-width="0.32" xml:space="preserve" >2.0</text>
<text x="382.2" y="501.4" font-size="8.9" text-anchor="end" fill="#111" stroke="#111" stroke-width="0.32" xml:space="preserve" >0.3</text>
<text x="382.2" y="516.8000000000001" font-size="8.9" text-anchor="end" fill="#111" stroke="#111" stroke-width="0.32" xml:space="preserve" >0.2</text>
<text x="382.2" y="532.6" font-size="8.9" text-anchor="end" fill="#111" stroke="#111" stroke-width="0.32" xml:space="preserve" >0.1</text>
<text x="382.2" y="548.3000000000001" font-size="8.9" text-anchor="end" fill="#111" stroke="#111" stroke-width="0.32" xml:space="preserve" >0.0</text>
<text x="346.8" y="528.5" font-size="9.3" text-anchor="start" transform="rotate(-90 346.8 528.5)" textLength="73.9" lengthAdjust="spacing" fill="#111" stroke="#111" stroke-width="0.33" xml:space="preserve" >CD4<tspan font-size="7" dy="-3">+</tspan><tspan dy="3" font-size="0.5"> </tspan> IFN-γ<tspan font-size="7" dy="-3">+</tspan><tspan dy="3" font-size="0.5"> </tspan> cells</text>
<text x="361.2" y="533.3" font-size="9.3" text-anchor="start" transform="rotate(-90 361.2 533.3)" textLength="88.4" lengthAdjust="spacing" fill="#111" stroke="#111" stroke-width="0.33" xml:space="preserve" >of all CD4<tspan font-size="7" dy="-3">+</tspan><tspan dy="3" font-size="0.5"> </tspan> cells (%)</text>
<rect x="390.3" y="458.2" width="18.4" height="33.0" fill="#050505"/>
<rect x="390.3" y="497.5" width="18.4" height="47.60000000000002" fill="#050505"/>
<line x1="399.6" y1="458.5" x2="399.6" y2="446.7" stroke="#111" stroke-width="1.4" />
<line x1="394.1" y1="446.7" x2="405.2" y2="446.7" stroke="#111" stroke-width="1.5" />
<line x1="399.6" y1="545.1" x2="399.6" y2="548.5" stroke="#111" stroke-width="1.4" />
<rect x="416.9" y="524.5" width="18.2" height="20.600000000000023" fill="#050505"/>
<line x1="426.0" y1="524.5" x2="426.0" y2="519.7" stroke="#111" stroke-width="1.4" />
<line x1="421.2" y1="519.7" x2="430.8" y2="519.7" stroke="#111" stroke-width="1.5" />
<line x1="426.0" y1="545.1" x2="426.0" y2="548.5" stroke="#111" stroke-width="1.4" />
<text x="426.8" y="563.5" font-size="9.5" text-anchor="middle" fill="#111" stroke="#111" stroke-width="0.34" xml:space="preserve" >1</text>
<text x="426.35" y="519.624" font-size="9.6" text-anchor="middle" fill="#111" stroke="#111" stroke-width="0.35" xml:space="preserve" letter-spacing="0.7">**</text>
<rect x="443.3" y="519.1" width="18.2" height="26.0" fill="#050505"/>
<line x1="452.40000000000003" y1="519.1" x2="452.40000000000003" y2="513.7" stroke="#111" stroke-width="1.4" />
<line x1="447.6" y1="513.7" x2="457.20000000000005" y2="513.7" stroke="#111" stroke-width="1.5" />
<line x1="452.40000000000003" y1="545.1" x2="452.40000000000003" y2="548.5" stroke="#111" stroke-width="1.4" />
<text x="454.6" y="563.5" font-size="9.5" text-anchor="middle" fill="#111" stroke="#111" stroke-width="0.34" xml:space="preserve" >0.3</text>
<text x="452.75000000000006" y="513.124" font-size="9.6" text-anchor="middle" fill="#111" stroke="#111" stroke-width="0.35" xml:space="preserve" letter-spacing="0.7">**</text>
<rect x="469.6" y="526.3" width="18.2" height="18.800000000000068" fill="#050505"/>
<line x1="478.70000000000005" y1="526.3" x2="478.70000000000005" y2="523.9" stroke="#111" stroke-width="1.4" />
<line x1="473.90000000000003" y1="523.9" x2="483.50000000000006" y2="523.9" stroke="#111" stroke-width="1.5" />
<line x1="478.70000000000005" y1="545.1" x2="478.70000000000005" y2="548.5" stroke="#111" stroke-width="1.4" />
<text x="480.1" y="563.5" font-size="9.5" text-anchor="middle" fill="#111" stroke="#111" stroke-width="0.34" xml:space="preserve" >0.1</text>
<text x="479.05000000000007" y="523.024" font-size="9.6" text-anchor="middle" fill="#111" stroke="#111" stroke-width="0.35" xml:space="preserve" letter-spacing="0.7">**</text>
<rect x="495.9" y="514.2" width="18.2" height="30.899999999999977" fill="#050505"/>
<line x1="505.0" y1="514.2" x2="505.0" y2="511.5" stroke="#111" stroke-width="1.4" />
<line x1="500.2" y1="511.5" x2="509.8" y2="511.5" stroke="#111" stroke-width="1.5" />
<line x1="505.0" y1="545.1" x2="505.0" y2="548.5" stroke="#111" stroke-width="1.4" />
<text x="504.5" y="563.5" font-size="9.5" text-anchor="middle" fill="#111" stroke="#111" stroke-width="0.34" xml:space="preserve" >0.03</text>
<text x="505.35" y="512.324" font-size="9.6" text-anchor="middle" fill="#111" stroke="#111" stroke-width="0.35" xml:space="preserve" letter-spacing="0.7">**</text>
<text x="402.7" y="563.5" font-size="9.5" text-anchor="middle" fill="#111" stroke="#111" stroke-width="0.34" xml:space="preserve" >0</text>
<text x="326.5" y="563.5" font-size="9.55" text-anchor="start" fill="#111" stroke="#111" stroke-width="0.34" xml:space="preserve" >Ruxolitinib (µM)</text>
</g></svg></body></html>
